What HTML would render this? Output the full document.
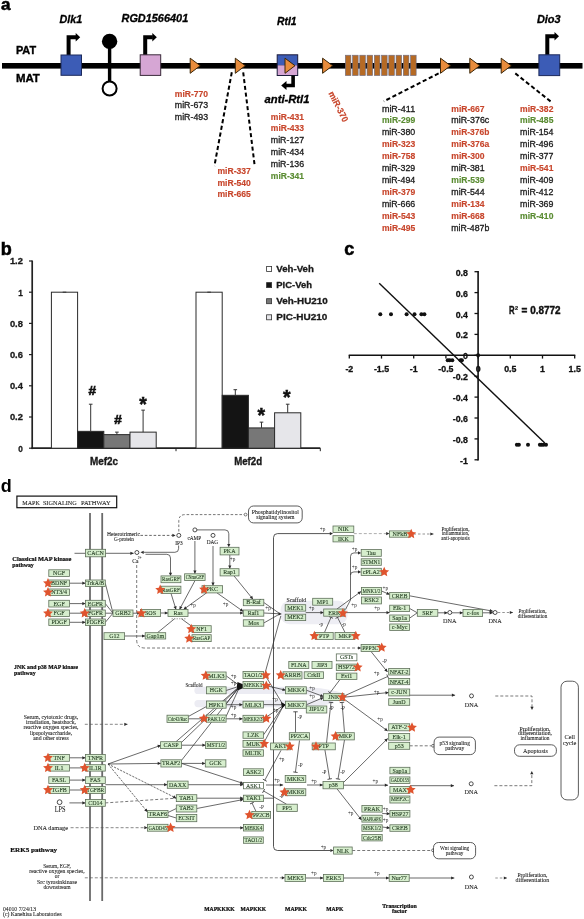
<!DOCTYPE html>
<html><head><meta charset="utf-8"><title>Figure</title>
<style>
html,body{margin:0;padding:0;background:#fff;}
body{width:584px;height:919px;overflow:hidden;}
svg{display:block;font-family:'Liberation Sans', Arial, sans-serif;}
</style></head>
<body>
<svg width="584" height="919" viewBox="0 0 584 919">
<rect x="0" y="0" width="584" height="919" fill="#fff"/>
<text x="1.00" y="10.30" font-size="17" font-weight="bold" stroke="#000" stroke-width="0.55">a</text>
<text x="15.90" y="54.30" font-size="11.3" font-weight="bold" textLength="20.20" lengthAdjust="spacingAndGlyphs" stroke="#000" stroke-width="0.35">PAT</text>
<text x="15.90" y="82.20" font-size="11.3" font-weight="bold" textLength="24.00" lengthAdjust="spacingAndGlyphs" stroke="#000" stroke-width="0.35">MAT</text>
<rect x="2.00" y="63.00" width="580.50" height="5.60" fill="#000"/>
<text x="59.60" y="22.60" font-size="10.5" font-weight="bold" font-style="italic" textLength="22.70" lengthAdjust="spacingAndGlyphs" stroke="#000" stroke-width="0.3">Dlk1</text>
<text x="121.50" y="22.40" font-size="10.5" font-weight="bold" font-style="italic" textLength="66.70" lengthAdjust="spacingAndGlyphs" stroke="#000" stroke-width="0.3">RGD1566401</text>
<text x="277.00" y="24.90" font-size="10.5" font-weight="bold" font-style="italic" textLength="19.50" lengthAdjust="spacingAndGlyphs" stroke="#000" stroke-width="0.3">Rtl1</text>
<text x="536.90" y="23.20" font-size="10.5" font-weight="bold" font-style="italic" textLength="23.70" lengthAdjust="spacingAndGlyphs" stroke="#000" stroke-width="0.3">Dio3</text>
<text x="264.50" y="103.00" font-size="10.5" font-weight="bold" font-style="italic" textLength="45.00" lengthAdjust="spacingAndGlyphs" stroke="#000" stroke-width="0.3">anti-Rtl1</text>
<path d="M68.6 55 V37.3 H76.2" fill="none" stroke="#000" stroke-width="4" stroke-linejoin="miter"/>
<path d="M75.7 33.0 L80.2 37.3 L75.7 41.6 Z" fill="#000"/>
<rect x="61.00" y="55.00" width="20.50" height="20.30" fill="#3c5cb6" stroke="#1c2a5c" stroke-width="1"/>
<rect x="107.90" y="41.00" width="3.40" height="42.00" fill="#000"/>
<circle cx="109.60" cy="41.40" r="7.70" fill="#000"/>
<circle cx="109.60" cy="88.50" r="7.00" fill="#fff" stroke="#000" stroke-width="2"/>
<path d="M145.2 55 V37.2 H152.8" fill="none" stroke="#000" stroke-width="4" stroke-linejoin="miter"/>
<path d="M152.3 32.9 L156.8 37.2 L152.3 41.5 Z" fill="#000"/>
<rect x="140.20" y="54.80" width="20.50" height="20.60" fill="#d6a6d4" stroke="#3a2a3a" stroke-width="1"/>
<rect x="277.20" y="54.80" width="20.50" height="10.50" fill="#3c5cb6"/>
<rect x="277.20" y="65.30" width="20.50" height="10.20" fill="#d6a6d4"/>
<rect x="277.20" y="54.80" width="20.50" height="20.70" fill="none" stroke="#1c1c3c" stroke-width="1"/>
<path d="M293.1 75.5 V85.5 H286" fill="none" stroke="#000" stroke-width="3.6"/>
<path d="M286.5 81.0 L281.2 85.5 L286.5 90.0 Z" fill="#000"/>
<path d="M547.3 55 V36.3 H555.0" fill="none" stroke="#000" stroke-width="4" stroke-linejoin="miter"/>
<path d="M554.5 32.0 L559.0 36.3 L554.5 40.6 Z" fill="#000"/>
<rect x="538.90" y="54.80" width="20.80" height="20.80" fill="#3c5cb6" stroke="#1c2a5c" stroke-width="1"/>
<path d="M190.2 58.2 L200.2 65.7 L190.2 73.3 Z" fill="#e88c3c" stroke="#3a2608" stroke-width="1.0"/>
<path d="M235.3 58.2 L245.3 65.7 L235.3 73.3 Z" fill="#e88c3c" stroke="#3a2608" stroke-width="1.0"/>
<path d="M285.0 58.2 L295.0 65.7 L285.0 73.3 Z" fill="#e88c3c" stroke="#3a2608" stroke-width="1.0"/>
<path d="M322.6 58.2 L332.6 65.7 L322.6 73.3 Z" fill="#e88c3c" stroke="#3a2608" stroke-width="1.0"/>
<path d="M440.5 58.2 L450.5 65.7 L440.5 73.3 Z" fill="#e88c3c" stroke="#3a2608" stroke-width="1.0"/>
<path d="M469.8 58.2 L479.8 65.7 L469.8 73.3 Z" fill="#e88c3c" stroke="#3a2608" stroke-width="1.0"/>
<path d="M501.2 58.2 L511.2 65.7 L501.2 73.3 Z" fill="#e88c3c" stroke="#3a2608" stroke-width="1.0"/>
<rect x="345.30" y="55.20" width="5.60" height="20.40" fill="#b66a24" stroke="#6a6e8a" stroke-width="0.6"/>
<rect x="352.55" y="55.20" width="5.60" height="20.40" fill="#b66a24" stroke="#6a6e8a" stroke-width="0.6"/>
<rect x="359.80" y="55.20" width="5.60" height="20.40" fill="#b66a24" stroke="#6a6e8a" stroke-width="0.6"/>
<rect x="367.05" y="55.20" width="5.60" height="20.40" fill="#b66a24" stroke="#6a6e8a" stroke-width="0.6"/>
<rect x="374.30" y="55.20" width="5.60" height="20.40" fill="#b66a24" stroke="#6a6e8a" stroke-width="0.6"/>
<rect x="381.55" y="55.20" width="5.60" height="20.40" fill="#b66a24" stroke="#6a6e8a" stroke-width="0.6"/>
<rect x="388.80" y="55.20" width="5.60" height="20.40" fill="#b66a24" stroke="#6a6e8a" stroke-width="0.6"/>
<rect x="396.05" y="55.20" width="5.60" height="20.40" fill="#b66a24" stroke="#6a6e8a" stroke-width="0.6"/>
<rect x="403.30" y="55.20" width="5.60" height="20.40" fill="#b66a24" stroke="#6a6e8a" stroke-width="0.6"/>
<rect x="410.55" y="55.20" width="5.60" height="20.40" fill="#b66a24" stroke="#6a6e8a" stroke-width="0.6"/>
<line x1="231.80" y1="72.30" x2="214.40" y2="166.00" stroke="#000" stroke-width="2" stroke-dasharray="4.2 2.6"/>
<line x1="243.20" y1="72.30" x2="254.70" y2="166.00" stroke="#000" stroke-width="2" stroke-dasharray="4.2 2.6"/>
<line x1="438.60" y1="73.40" x2="383.80" y2="101.30" stroke="#000" stroke-width="2" stroke-dasharray="4.2 2.6"/>
<line x1="515.30" y1="73.40" x2="550.60" y2="101.40" stroke="#000" stroke-width="2" stroke-dasharray="4.2 2.6"/>
<text x="174.80" y="96.60" font-size="9" fill="#c8462c" font-weight="bold" textLength="33.30" lengthAdjust="spacingAndGlyphs" stroke="#c8462c" stroke-width="0.15">miR-770</text>
<text x="174.80" y="108.35" font-size="9" fill="#1a1a1a" textLength="33.30" lengthAdjust="spacingAndGlyphs" stroke="#1a1a1a" stroke-width="0.3">miR-673</text>
<text x="174.80" y="120.10" font-size="9" fill="#1a1a1a" textLength="33.30" lengthAdjust="spacingAndGlyphs" stroke="#1a1a1a" stroke-width="0.3">miR-493</text>
<text x="270.80" y="119.60" font-size="9" fill="#c8462c" font-weight="bold" textLength="33.30" lengthAdjust="spacingAndGlyphs" stroke="#c8462c" stroke-width="0.15">miR-431</text>
<text x="270.80" y="131.45" font-size="9" fill="#c8462c" font-weight="bold" textLength="33.30" lengthAdjust="spacingAndGlyphs" stroke="#c8462c" stroke-width="0.15">miR-433</text>
<text x="270.80" y="143.30" font-size="9" fill="#1a1a1a" textLength="33.30" lengthAdjust="spacingAndGlyphs" stroke="#1a1a1a" stroke-width="0.3">miR-127</text>
<text x="270.80" y="155.15" font-size="9" fill="#1a1a1a" textLength="33.30" lengthAdjust="spacingAndGlyphs" stroke="#1a1a1a" stroke-width="0.3">miR-434</text>
<text x="270.80" y="167.00" font-size="9" fill="#1a1a1a" textLength="33.30" lengthAdjust="spacingAndGlyphs" stroke="#1a1a1a" stroke-width="0.3">miR-136</text>
<text x="270.80" y="178.85" font-size="9" fill="#5a8c32" font-weight="bold" textLength="33.30" lengthAdjust="spacingAndGlyphs" stroke="#5a8c32" stroke-width="0.15">miR-341</text>
<text x="217.50" y="173.80" font-size="9" fill="#c8462c" font-weight="bold" textLength="33.30" lengthAdjust="spacingAndGlyphs" stroke="#c8462c" stroke-width="0.15">miR-337</text>
<text x="217.50" y="185.60" font-size="9" fill="#c8462c" font-weight="bold" textLength="33.30" lengthAdjust="spacingAndGlyphs" stroke="#c8462c" stroke-width="0.15">miR-540</text>
<text x="217.50" y="197.40" font-size="9" fill="#c8462c" font-weight="bold" textLength="33.30" lengthAdjust="spacingAndGlyphs" stroke="#c8462c" stroke-width="0.15">miR-665</text>
<text x="328.20" y="93.30" font-size="9" fill="#c8462c" font-weight="bold" textLength="33.00" lengthAdjust="spacingAndGlyphs" transform="rotate(63 328.20 93.30)" stroke="#c8462c" stroke-width="0.15">miR-370</text>
<text x="381.90" y="111.50" font-size="9" fill="#1a1a1a" textLength="33.30" lengthAdjust="spacingAndGlyphs" stroke="#1a1a1a" stroke-width="0.3">miR-411</text>
<text x="381.90" y="123.42" font-size="9" fill="#5a8c32" font-weight="bold" textLength="33.30" lengthAdjust="spacingAndGlyphs" stroke="#5a8c32" stroke-width="0.15">miR-299</text>
<text x="381.90" y="135.34" font-size="9" fill="#1a1a1a" textLength="33.30" lengthAdjust="spacingAndGlyphs" stroke="#1a1a1a" stroke-width="0.3">miR-380</text>
<text x="381.90" y="147.26" font-size="9" fill="#c8462c" font-weight="bold" textLength="33.30" lengthAdjust="spacingAndGlyphs" stroke="#c8462c" stroke-width="0.15">miR-323</text>
<text x="381.90" y="159.18" font-size="9" fill="#c8462c" font-weight="bold" textLength="33.30" lengthAdjust="spacingAndGlyphs" stroke="#c8462c" stroke-width="0.15">miR-758</text>
<text x="381.90" y="171.10" font-size="9" fill="#1a1a1a" textLength="33.30" lengthAdjust="spacingAndGlyphs" stroke="#1a1a1a" stroke-width="0.3">miR-329</text>
<text x="381.90" y="183.02" font-size="9" fill="#1a1a1a" textLength="33.30" lengthAdjust="spacingAndGlyphs" stroke="#1a1a1a" stroke-width="0.3">miR-494</text>
<text x="381.90" y="194.94" font-size="9" fill="#c8462c" font-weight="bold" textLength="33.30" lengthAdjust="spacingAndGlyphs" stroke="#c8462c" stroke-width="0.15">miR-379</text>
<text x="381.90" y="206.86" font-size="9" fill="#1a1a1a" textLength="33.30" lengthAdjust="spacingAndGlyphs" stroke="#1a1a1a" stroke-width="0.3">miR-666</text>
<text x="381.90" y="218.78" font-size="9" fill="#c8462c" font-weight="bold" textLength="33.30" lengthAdjust="spacingAndGlyphs" stroke="#c8462c" stroke-width="0.15">miR-543</text>
<text x="381.90" y="230.70" font-size="9" fill="#c8462c" font-weight="bold" textLength="33.30" lengthAdjust="spacingAndGlyphs" stroke="#c8462c" stroke-width="0.15">miR-495</text>
<text x="451.30" y="111.50" font-size="9" fill="#c8462c" font-weight="bold" textLength="33.30" lengthAdjust="spacingAndGlyphs" stroke="#c8462c" stroke-width="0.15">miR-667</text>
<text x="451.30" y="123.42" font-size="9" fill="#1a1a1a" textLength="38.00" lengthAdjust="spacingAndGlyphs" stroke="#1a1a1a" stroke-width="0.3">miR-376c</text>
<text x="451.30" y="135.34" font-size="9" fill="#c8462c" font-weight="bold" textLength="38.00" lengthAdjust="spacingAndGlyphs" stroke="#c8462c" stroke-width="0.15">miR-376b</text>
<text x="451.30" y="147.26" font-size="9" fill="#c8462c" font-weight="bold" textLength="38.00" lengthAdjust="spacingAndGlyphs" stroke="#c8462c" stroke-width="0.15">miR-376a</text>
<text x="451.30" y="159.18" font-size="9" fill="#c8462c" font-weight="bold" textLength="33.30" lengthAdjust="spacingAndGlyphs" stroke="#c8462c" stroke-width="0.15">miR-300</text>
<text x="451.30" y="171.10" font-size="9" fill="#1a1a1a" textLength="33.30" lengthAdjust="spacingAndGlyphs" stroke="#1a1a1a" stroke-width="0.3">miR-381</text>
<text x="451.30" y="183.02" font-size="9" fill="#5a8c32" font-weight="bold" textLength="33.30" lengthAdjust="spacingAndGlyphs" stroke="#5a8c32" stroke-width="0.15">miR-539</text>
<text x="451.30" y="194.94" font-size="9" fill="#1a1a1a" textLength="33.30" lengthAdjust="spacingAndGlyphs" stroke="#1a1a1a" stroke-width="0.3">miR-544</text>
<text x="451.30" y="206.86" font-size="9" fill="#c8462c" font-weight="bold" textLength="33.30" lengthAdjust="spacingAndGlyphs" stroke="#c8462c" stroke-width="0.15">miR-134</text>
<text x="451.30" y="218.78" font-size="9" fill="#c8462c" font-weight="bold" textLength="33.30" lengthAdjust="spacingAndGlyphs" stroke="#c8462c" stroke-width="0.15">miR-668</text>
<text x="451.30" y="230.70" font-size="9" fill="#1a1a1a" textLength="38.00" lengthAdjust="spacingAndGlyphs" stroke="#1a1a1a" stroke-width="0.3">miR-487b</text>
<text x="520.10" y="111.50" font-size="9" fill="#c8462c" font-weight="bold" textLength="33.30" lengthAdjust="spacingAndGlyphs" stroke="#c8462c" stroke-width="0.15">miR-382</text>
<text x="520.10" y="123.42" font-size="9" fill="#5a8c32" font-weight="bold" textLength="33.30" lengthAdjust="spacingAndGlyphs" stroke="#5a8c32" stroke-width="0.15">miR-485</text>
<text x="520.10" y="135.34" font-size="9" fill="#1a1a1a" textLength="33.30" lengthAdjust="spacingAndGlyphs" stroke="#1a1a1a" stroke-width="0.3">miR-154</text>
<text x="520.10" y="147.26" font-size="9" fill="#1a1a1a" textLength="33.30" lengthAdjust="spacingAndGlyphs" stroke="#1a1a1a" stroke-width="0.3">miR-496</text>
<text x="520.10" y="159.18" font-size="9" fill="#1a1a1a" textLength="33.30" lengthAdjust="spacingAndGlyphs" stroke="#1a1a1a" stroke-width="0.3">miR-377</text>
<text x="520.10" y="171.10" font-size="9" fill="#c8462c" font-weight="bold" textLength="33.30" lengthAdjust="spacingAndGlyphs" stroke="#c8462c" stroke-width="0.15">miR-541</text>
<text x="520.10" y="183.02" font-size="9" fill="#1a1a1a" textLength="33.30" lengthAdjust="spacingAndGlyphs" stroke="#1a1a1a" stroke-width="0.3">miR-409</text>
<text x="520.10" y="194.94" font-size="9" fill="#1a1a1a" textLength="33.30" lengthAdjust="spacingAndGlyphs" stroke="#1a1a1a" stroke-width="0.3">miR-412</text>
<text x="520.10" y="206.86" font-size="9" fill="#1a1a1a" textLength="33.30" lengthAdjust="spacingAndGlyphs" stroke="#1a1a1a" stroke-width="0.3">miR-369</text>
<text x="520.10" y="218.78" font-size="9" fill="#5a8c32" font-weight="bold" textLength="33.30" lengthAdjust="spacingAndGlyphs" stroke="#5a8c32" stroke-width="0.15">miR-410</text>
<text x="0.80" y="254.70" font-size="18" font-weight="bold" stroke="#000" stroke-width="0.6">b</text>
<line x1="32.20" y1="260.50" x2="32.20" y2="449.10" stroke="#222" stroke-width="1.7"/>
<line x1="31.40" y1="448.20" x2="320.30" y2="448.20" stroke="#222" stroke-width="1.7"/>
<line x1="176.00" y1="448.20" x2="176.00" y2="451.20" stroke="#222" stroke-width="1"/>
<line x1="320.30" y1="448.20" x2="320.30" y2="451.20" stroke="#222" stroke-width="1"/>
<line x1="29.00" y1="448.20" x2="32.20" y2="448.20" stroke="#222" stroke-width="1.2"/>
<text x="22.90" y="451.60" font-size="9.2" fill="#1a1a1a" font-weight="bold" text-anchor="end" textLength="4.60" lengthAdjust="spacingAndGlyphs" stroke="#1a1a1a" stroke-width="0.3">0</text>
<line x1="29.00" y1="417.00" x2="32.20" y2="417.00" stroke="#222" stroke-width="1.2"/>
<text x="22.90" y="420.40" font-size="9.2" fill="#1a1a1a" font-weight="bold" text-anchor="end" textLength="13.00" lengthAdjust="spacingAndGlyphs" stroke="#1a1a1a" stroke-width="0.3">0.2</text>
<line x1="29.00" y1="385.80" x2="32.20" y2="385.80" stroke="#222" stroke-width="1.2"/>
<text x="22.90" y="389.20" font-size="9.2" fill="#1a1a1a" font-weight="bold" text-anchor="end" textLength="13.00" lengthAdjust="spacingAndGlyphs" stroke="#1a1a1a" stroke-width="0.3">0.4</text>
<line x1="29.00" y1="354.60" x2="32.20" y2="354.60" stroke="#222" stroke-width="1.2"/>
<text x="22.90" y="358.00" font-size="9.2" fill="#1a1a1a" font-weight="bold" text-anchor="end" textLength="13.00" lengthAdjust="spacingAndGlyphs" stroke="#1a1a1a" stroke-width="0.3">0.6</text>
<line x1="29.00" y1="323.40" x2="32.20" y2="323.40" stroke="#222" stroke-width="1.2"/>
<text x="22.90" y="326.80" font-size="9.2" fill="#1a1a1a" font-weight="bold" text-anchor="end" textLength="13.00" lengthAdjust="spacingAndGlyphs" stroke="#1a1a1a" stroke-width="0.3">0.8</text>
<line x1="29.00" y1="292.20" x2="32.20" y2="292.20" stroke="#222" stroke-width="1.2"/>
<text x="22.90" y="295.60" font-size="9.2" fill="#1a1a1a" font-weight="bold" text-anchor="end" textLength="4.60" lengthAdjust="spacingAndGlyphs" stroke="#1a1a1a" stroke-width="0.3">1</text>
<line x1="29.00" y1="261.00" x2="32.20" y2="261.00" stroke="#222" stroke-width="1.2"/>
<text x="22.90" y="264.40" font-size="9.2" fill="#1a1a1a" font-weight="bold" text-anchor="end" textLength="13.00" lengthAdjust="spacingAndGlyphs" stroke="#1a1a1a" stroke-width="0.3">1.2</text>
<rect x="51.40" y="292.20" width="26.20" height="156.00" fill="#ffffff" stroke="#2a2a2a" stroke-width="1.0"/>
<line x1="62.70" y1="292.20" x2="66.30" y2="292.20" stroke="#333" stroke-width="1.0"/>
<rect x="77.60" y="431.35" width="26.20" height="16.85" fill="#141414" stroke="#2a2a2a" stroke-width="1.0"/>
<line x1="90.70" y1="431.35" x2="90.70" y2="404.21" stroke="#333" stroke-width="1.0"/>
<line x1="88.90" y1="404.21" x2="92.50" y2="404.21" stroke="#333" stroke-width="1.0"/>
<rect x="103.80" y="434.63" width="26.20" height="13.57" fill="#777777" stroke="#2a2a2a" stroke-width="1.0"/>
<line x1="116.90" y1="434.63" x2="116.90" y2="432.13" stroke="#333" stroke-width="1.0"/>
<line x1="115.10" y1="432.13" x2="118.70" y2="432.13" stroke="#333" stroke-width="1.0"/>
<rect x="130.00" y="432.13" width="26.20" height="16.07" fill="#e6e6ea" stroke="#2a2a2a" stroke-width="1.0"/>
<line x1="143.10" y1="432.13" x2="143.10" y2="410.14" stroke="#333" stroke-width="1.0"/>
<line x1="141.30" y1="410.14" x2="144.90" y2="410.14" stroke="#333" stroke-width="1.0"/>
<rect x="196.00" y="292.20" width="26.20" height="156.00" fill="#ffffff" stroke="#2a2a2a" stroke-width="1.0"/>
<line x1="207.30" y1="292.20" x2="210.90" y2="292.20" stroke="#333" stroke-width="1.0"/>
<rect x="222.20" y="395.32" width="26.20" height="52.88" fill="#141414" stroke="#2a2a2a" stroke-width="1.0"/>
<line x1="235.30" y1="395.32" x2="235.30" y2="389.70" stroke="#333" stroke-width="1.0"/>
<line x1="233.50" y1="389.70" x2="237.10" y2="389.70" stroke="#333" stroke-width="1.0"/>
<rect x="248.40" y="427.92" width="26.20" height="20.28" fill="#777777" stroke="#2a2a2a" stroke-width="1.0"/>
<line x1="261.50" y1="427.92" x2="261.50" y2="422.15" stroke="#333" stroke-width="1.0"/>
<line x1="259.70" y1="422.15" x2="263.30" y2="422.15" stroke="#333" stroke-width="1.0"/>
<rect x="274.60" y="412.79" width="26.20" height="35.41" fill="#e6e6ea" stroke="#2a2a2a" stroke-width="1.0"/>
<line x1="287.70" y1="412.79" x2="287.70" y2="404.21" stroke="#333" stroke-width="1.0"/>
<line x1="285.90" y1="404.21" x2="289.50" y2="404.21" stroke="#333" stroke-width="1.0"/>
<text x="92.30" y="394.50" font-size="13.5" fill="#111" font-weight="bold" text-anchor="middle" stroke="#111" stroke-width="0.7">#</text>
<text x="118.00" y="424.40" font-size="13.5" fill="#111" font-weight="bold" text-anchor="middle" stroke="#111" stroke-width="0.7">#</text>
<text x="143.00" y="411.10" font-size="19.5" fill="#111" font-weight="bold" text-anchor="middle" stroke="#111" stroke-width="0.5">*</text>
<text x="261.30" y="422.10" font-size="19.5" fill="#111" font-weight="bold" text-anchor="middle" stroke="#111" stroke-width="0.5">*</text>
<text x="286.90" y="403.50" font-size="19.5" fill="#111" font-weight="bold" text-anchor="middle" stroke="#111" stroke-width="0.5">*</text>
<text x="90.00" y="464.70" font-size="10.3" fill="#1a1a1a" font-weight="bold" textLength="28.10" lengthAdjust="spacingAndGlyphs" stroke="#1a1a1a" stroke-width="0.35">Mef2c</text>
<text x="234.20" y="464.70" font-size="10.3" fill="#1a1a1a" font-weight="bold" textLength="27.90" lengthAdjust="spacingAndGlyphs" stroke="#1a1a1a" stroke-width="0.35">Mef2d</text>
<rect x="266.60" y="266.50" width="5.00" height="5.00" fill="#ffffff" stroke="#333" stroke-width="0.8"/>
<text x="276.30" y="271.80" font-size="9.2" fill="#1a1a1a" font-weight="bold" textLength="37.60" lengthAdjust="spacingAndGlyphs" stroke="#1a1a1a" stroke-width="0.3">Veh-Veh</text>
<rect x="266.60" y="282.60" width="5.00" height="5.00" fill="#141414" stroke="#333" stroke-width="0.8"/>
<text x="276.30" y="287.90" font-size="9.2" fill="#1a1a1a" font-weight="bold" textLength="35.70" lengthAdjust="spacingAndGlyphs" stroke="#1a1a1a" stroke-width="0.3">PIC-Veh</text>
<rect x="266.60" y="298.70" width="5.00" height="5.00" fill="#777777" stroke="#333" stroke-width="0.8"/>
<text x="276.30" y="304.00" font-size="9.2" fill="#1a1a1a" font-weight="bold" textLength="51.50" lengthAdjust="spacingAndGlyphs" stroke="#1a1a1a" stroke-width="0.3">Veh-HU210</text>
<rect x="266.60" y="314.80" width="5.00" height="5.00" fill="#e6e6ea" stroke="#333" stroke-width="0.8"/>
<text x="276.30" y="320.10" font-size="9.2" fill="#1a1a1a" font-weight="bold" textLength="51.00" lengthAdjust="spacingAndGlyphs" stroke="#1a1a1a" stroke-width="0.3">PIC-HU210</text>
<text x="344.20" y="255.00" font-size="18" font-weight="bold" stroke="#000" stroke-width="0.6">c</text>
<line x1="478.10" y1="271.10" x2="478.10" y2="460.40" stroke="#111" stroke-width="1.6"/>
<line x1="348.70" y1="355.30" x2="575.30" y2="355.30" stroke="#111" stroke-width="1.6"/>
<line x1="474.50" y1="271.70" x2="478.10" y2="271.70" stroke="#111" stroke-width="1.3"/>
<text x="467.90" y="275.70" font-size="8.8" fill="#111" font-weight="bold" text-anchor="end" stroke="#111" stroke-width="0.3">0.8</text>
<line x1="474.50" y1="292.60" x2="478.10" y2="292.60" stroke="#111" stroke-width="1.3"/>
<text x="467.90" y="296.60" font-size="8.8" fill="#111" font-weight="bold" text-anchor="end" stroke="#111" stroke-width="0.3">0.6</text>
<line x1="474.50" y1="313.50" x2="478.10" y2="313.50" stroke="#111" stroke-width="1.3"/>
<text x="467.90" y="317.50" font-size="8.8" fill="#111" font-weight="bold" text-anchor="end" stroke="#111" stroke-width="0.3">0.4</text>
<line x1="474.50" y1="334.40" x2="478.10" y2="334.40" stroke="#111" stroke-width="1.3"/>
<text x="467.90" y="338.40" font-size="8.8" fill="#111" font-weight="bold" text-anchor="end" stroke="#111" stroke-width="0.3">0.2</text>
<line x1="474.50" y1="355.30" x2="478.10" y2="355.30" stroke="#111" stroke-width="1.3"/>
<text x="467.90" y="359.30" font-size="8.8" fill="#111" font-weight="bold" text-anchor="end" stroke="#111" stroke-width="0.3">0</text>
<line x1="474.50" y1="376.20" x2="478.10" y2="376.20" stroke="#111" stroke-width="1.3"/>
<text x="467.90" y="380.20" font-size="8.8" fill="#111" font-weight="bold" text-anchor="end" stroke="#111" stroke-width="0.3">-0.2</text>
<line x1="474.50" y1="397.10" x2="478.10" y2="397.10" stroke="#111" stroke-width="1.3"/>
<text x="467.90" y="401.10" font-size="8.8" fill="#111" font-weight="bold" text-anchor="end" stroke="#111" stroke-width="0.3">-0.4</text>
<line x1="474.50" y1="418.00" x2="478.10" y2="418.00" stroke="#111" stroke-width="1.3"/>
<text x="467.90" y="422.00" font-size="8.8" fill="#111" font-weight="bold" text-anchor="end" stroke="#111" stroke-width="0.3">-0.6</text>
<line x1="474.50" y1="438.90" x2="478.10" y2="438.90" stroke="#111" stroke-width="1.3"/>
<text x="467.90" y="442.90" font-size="8.8" fill="#111" font-weight="bold" text-anchor="end" stroke="#111" stroke-width="0.3">-0.8</text>
<line x1="474.50" y1="459.80" x2="478.10" y2="459.80" stroke="#111" stroke-width="1.3"/>
<text x="467.90" y="463.80" font-size="8.8" fill="#111" font-weight="bold" text-anchor="end" stroke="#111" stroke-width="0.3">-1</text>
<line x1="349.30" y1="355.30" x2="349.30" y2="358.60" stroke="#111" stroke-width="1.3"/>
<text x="349.30" y="372.30" font-size="8.8" fill="#111" font-weight="bold" text-anchor="middle" stroke="#111" stroke-width="0.3">-2</text>
<line x1="381.50" y1="355.30" x2="381.50" y2="358.60" stroke="#111" stroke-width="1.3"/>
<text x="381.50" y="372.30" font-size="8.8" fill="#111" font-weight="bold" text-anchor="middle" stroke="#111" stroke-width="0.3">-1.5</text>
<line x1="413.70" y1="355.30" x2="413.70" y2="358.60" stroke="#111" stroke-width="1.3"/>
<text x="413.70" y="372.30" font-size="8.8" fill="#111" font-weight="bold" text-anchor="middle" stroke="#111" stroke-width="0.3">-1</text>
<line x1="445.90" y1="355.30" x2="445.90" y2="358.60" stroke="#111" stroke-width="1.3"/>
<text x="445.90" y="372.30" font-size="8.8" fill="#111" font-weight="bold" text-anchor="middle" stroke="#111" stroke-width="0.3">-0.5</text>
<line x1="478.10" y1="355.30" x2="478.10" y2="358.60" stroke="#111" stroke-width="1.3"/>
<text x="478.10" y="372.30" font-size="8.8" fill="#111" font-weight="bold" text-anchor="middle" stroke="#111" stroke-width="0.3">0</text>
<line x1="510.30" y1="355.30" x2="510.30" y2="358.60" stroke="#111" stroke-width="1.3"/>
<text x="510.30" y="372.30" font-size="8.8" fill="#111" font-weight="bold" text-anchor="middle" stroke="#111" stroke-width="0.3">0.5</text>
<line x1="542.50" y1="355.30" x2="542.50" y2="358.60" stroke="#111" stroke-width="1.3"/>
<text x="542.50" y="372.30" font-size="8.8" fill="#111" font-weight="bold" text-anchor="middle" stroke="#111" stroke-width="0.3">1</text>
<line x1="574.70" y1="355.30" x2="574.70" y2="358.60" stroke="#111" stroke-width="1.3"/>
<text x="574.70" y="372.30" font-size="8.8" fill="#111" font-weight="bold" text-anchor="middle" stroke="#111" stroke-width="0.3">1.5</text>
<line x1="379.20" y1="283.30" x2="544.80" y2="443.00" stroke="#111" stroke-width="1.4"/>
<circle cx="380.30" cy="314.20" r="2.00" fill="#111"/>
<circle cx="391.00" cy="314.20" r="2.00" fill="#111"/>
<circle cx="406.60" cy="314.20" r="2.00" fill="#111"/>
<circle cx="414.50" cy="314.20" r="2.00" fill="#111"/>
<circle cx="421.40" cy="314.20" r="2.00" fill="#111"/>
<circle cx="424.40" cy="314.20" r="2.00" fill="#111"/>
<circle cx="447.70" cy="360.30" r="2.00" fill="#111"/>
<circle cx="449.60" cy="360.30" r="2.00" fill="#111"/>
<circle cx="452.30" cy="360.30" r="2.00" fill="#111"/>
<circle cx="460.50" cy="360.30" r="2.00" fill="#111"/>
<circle cx="461.90" cy="360.30" r="2.00" fill="#111"/>
<circle cx="478.10" cy="355.30" r="2.00" fill="#111"/>
<circle cx="516.90" cy="444.80" r="2.00" fill="#111"/>
<circle cx="518.90" cy="444.80" r="2.00" fill="#111"/>
<circle cx="528.00" cy="444.80" r="2.00" fill="#111"/>
<circle cx="539.90" cy="444.80" r="2.00" fill="#111"/>
<circle cx="541.60" cy="444.80" r="2.00" fill="#111"/>
<circle cx="543.50" cy="444.80" r="2.00" fill="#111"/>
<circle cx="546.00" cy="444.80" r="2.00" fill="#111"/>
<text x="509.00" y="314.40" font-size="10.0" fill="#111" font-weight="bold" textLength="5.60" lengthAdjust="spacingAndGlyphs" stroke="#111" stroke-width="0.4">R</text>
<text x="515.00" y="310.30" font-size="5.6" fill="#111" font-weight="bold" stroke="#111" stroke-width="0.2">2</text>
<text x="521.60" y="314.40" font-size="10.0" fill="#111" font-weight="bold" textLength="39.00" lengthAdjust="spacingAndGlyphs" stroke="#111" stroke-width="0.4">= 0.8772</text>
<text x="0.80" y="492.00" font-size="18" font-weight="bold">d</text>
<rect x="16.90" y="496.10" width="99.80" height="11.60" fill="#fff" stroke="#111" stroke-width="1.2"/>
<text x="22.30" y="504.80" font-size="6.0" font-family="'Liberation Serif', 'Times New Roman', serif" fill="#222" text-anchor="start" textLength="17.50" lengthAdjust="spacingAndGlyphs" stroke="#222" stroke-width="0.08">MAPK</text>
<text x="42.90" y="504.80" font-size="6.0" font-family="'Liberation Serif', 'Times New Roman', serif" fill="#222" text-anchor="start" textLength="33.90" lengthAdjust="spacingAndGlyphs" stroke="#222" stroke-width="0.08">SIGNALING</text>
<text x="80.90" y="504.80" font-size="6.0" font-family="'Liberation Serif', 'Times New Roman', serif" fill="#222" text-anchor="start" textLength="29.80" lengthAdjust="spacingAndGlyphs" stroke="#222" stroke-width="0.08">PATHWAY</text>
<rect x="280.5" y="600.8" width="67" height="23.4" rx="9" fill="#eeeef4"/>
<path d="M198 686.8 H300 Q330 688 345 694 L345 700 Q330 696 300 694.1 H198 A3.6 3.6 0 0 1 198 686.8 Z" fill="#ececf3"/>
<path d="M198 700 H300 Q318 700 330 697 L334 703 Q318 707.2 300 707.2 H198 A3.6 3.6 0 0 1 198 700 Z" fill="#ececf3"/>
<line x1="90.00" y1="513.00" x2="90.00" y2="901.00" stroke="#6a6a6a" stroke-width="1.8"/>
<line x1="102.20" y1="513.00" x2="102.20" y2="901.00" stroke="#6a6a6a" stroke-width="1.8"/>
<text x="12.30" y="561.00" font-size="6.0" font-family="'Liberation Serif', 'Times New Roman', serif" fill="#111" font-weight="bold" text-anchor="start" textLength="59.00" lengthAdjust="spacingAndGlyphs" stroke="#111" stroke-width="0.22">Classical MAP kinase</text>
<text x="12.30" y="566.80" font-size="6.0" font-family="'Liberation Serif', 'Times New Roman', serif" fill="#111" font-weight="bold" text-anchor="start" textLength="21.50" lengthAdjust="spacingAndGlyphs" stroke="#111" stroke-width="0.22">pathway</text>
<text x="14.10" y="669.00" font-size="6.0" font-family="'Liberation Serif', 'Times New Roman', serif" fill="#111" font-weight="bold" text-anchor="start" textLength="64.00" lengthAdjust="spacingAndGlyphs" stroke="#111" stroke-width="0.22">JNK and p38 MAP kinase</text>
<text x="14.10" y="674.60" font-size="6.0" font-family="'Liberation Serif', 'Times New Roman', serif" fill="#111" font-weight="bold" text-anchor="start" textLength="21.50" lengthAdjust="spacingAndGlyphs" stroke="#111" stroke-width="0.22">pathway</text>
<text x="10.30" y="852.00" font-size="6.6" font-family="'Liberation Serif', 'Times New Roman', serif" fill="#111" font-weight="bold" text-anchor="start" textLength="46.70" lengthAdjust="spacingAndGlyphs" stroke="#111" stroke-width="0.22">ERK5 pathway</text>
<path d="M74.50 553.30 L133.60 553.30" fill="none" stroke="#2a2a2a" stroke-width="0.7"/>
<path d="M133.60 553.30 L130.40 554.90 L130.40 551.70 Z" fill="#2a2a2a"/>
<path d="M140.40 535.40 L175.60 535.40" fill="none" stroke="#2a2a2a" stroke-width="0.7" stroke-dasharray="2.6 1.8"/>
<path d="M175.60 535.40 L172.40 537.00 L172.40 533.80 Z" fill="#2a2a2a"/>
<path d="M178.8 531.5 V521 Q178.8 514.6 185.2 514.6 H244" fill="none" stroke="#555" stroke-width="0.8" stroke-dasharray="2.6 1.8"/>
<circle cx="245.60" cy="514.60" r="1.40" fill="#fff" stroke="#444" stroke-width="0.7"/>
<path d="M178.6 545.5 V548.6 Q178.6 552.3 174.9 552.3 H143.5" fill="none" stroke="#2a2a2a" stroke-width="0.7"/>
<path d="M140.50 552.30 L143.70 550.70 L143.70 553.90 Z" fill="#2a2a2a"/>
<path d="M145.5 554.3 H166.8 Q170.5 554.3 170.5 558 V573" fill="none" stroke="#2a2a2a" stroke-width="0.7"/>
<path d="M170.50 575.90 L168.90 572.70 L172.10 572.70 Z" fill="#2a2a2a"/>
<path d="M197.0 529.9 H225.0 Q228.8 529.9 228.8 533.7 V545" fill="none" stroke="#2a2a2a" stroke-width="0.7"/>
<path d="M228.80 547.30 L227.20 544.10 L230.40 544.10 Z" fill="#2a2a2a"/>
<path d="M194.90 541.00 L194.90 573.80" fill="none" stroke="#2a2a2a" stroke-width="0.7"/>
<path d="M194.90 573.80 L193.30 570.60 L196.50 570.60 Z" fill="#2a2a2a"/>
<path d="M213.00 546.00 L213.00 585.70" fill="none" stroke="#2a2a2a" stroke-width="0.7"/>
<path d="M213.00 585.70 L211.40 582.50 L214.60 582.50 Z" fill="#2a2a2a"/>
<path d="M229.80 554.90 L229.80 568.70" fill="none" stroke="#2a2a2a" stroke-width="0.7"/>
<path d="M229.80 568.70 L228.20 565.50 L231.40 565.50 Z" fill="#2a2a2a"/>
<text x="232.60" y="561.00" font-size="5.2" font-family="'Liberation Serif', 'Times New Roman', serif" fill="#222" text-anchor="middle">+p</text>
<path d="M234.00 575.90 L253.00 599.30" fill="none" stroke="#2a2a2a" stroke-width="0.7"/>
<path d="M253.00 599.30 L249.74 597.82 L252.23 595.81 Z" fill="#2a2a2a"/>
<path d="M171.00 593.40 L176.00 609.50" fill="none" stroke="#2a2a2a" stroke-width="0.7"/>
<path d="M176.00 609.50 L173.52 606.92 L176.58 605.97 Z" fill="#2a2a2a"/>
<path d="M195.00 580.60 L179.50 609.50" fill="none" stroke="#2a2a2a" stroke-width="0.7"/>
<path d="M179.50 609.50 L179.60 605.92 L182.42 607.44 Z" fill="#2a2a2a"/>
<path d="M206.50 592.90 L183.50 609.50" fill="none" stroke="#2a2a2a" stroke-width="0.7"/>
<path d="M183.50 609.50 L185.16 606.33 L187.03 608.92 Z" fill="#2a2a2a"/>
<path d="M217.00 592.90 L243.30 611.50" fill="none" stroke="#2a2a2a" stroke-width="0.7"/>
<path d="M243.30 611.50 L239.76 610.96 L241.61 608.35 Z" fill="#2a2a2a"/>
<text x="193.00" y="607.00" font-size="5.2" font-family="'Liberation Serif', 'Times New Roman', serif" fill="#222" text-anchor="middle">+p</text>
<text x="225.50" y="606.00" font-size="5.2" font-family="'Liberation Serif', 'Times New Roman', serif" fill="#222" text-anchor="middle">+p</text>
<path d="M160.60 613.00 L168.00 613.00" fill="none" stroke="#2a2a2a" stroke-width="0.7"/>
<path d="M168.00 613.00 L164.80 614.60 L164.80 611.40 Z" fill="#2a2a2a"/>
<path d="M188.00 613.00 L243.30 613.00" fill="none" stroke="#2a2a2a" stroke-width="0.7"/>
<path d="M243.30 613.00 L240.10 614.60 L240.10 611.40 Z" fill="#2a2a2a"/>
<path d="M133.00 613.20 L140.50 613.20" fill="none" stroke="#2a2a2a" stroke-width="0.7"/>
<path d="M140.50 613.20 L137.30 614.80 L137.30 611.60 Z" fill="#2a2a2a"/>
<line x1="105.30" y1="583.30" x2="113.00" y2="613.20" stroke="#2a2a2a" stroke-width="0.7"/>
<line x1="105.30" y1="603.60" x2="113.00" y2="613.20" stroke="#2a2a2a" stroke-width="0.7"/>
<line x1="105.30" y1="613.20" x2="113.00" y2="613.20" stroke="#2a2a2a" stroke-width="0.7"/>
<line x1="105.30" y1="622.30" x2="113.00" y2="613.20" stroke="#2a2a2a" stroke-width="0.7"/>
<path d="M69.40 583.20 L85.50 583.20" fill="none" stroke="#2a2a2a" stroke-width="0.7"/>
<path d="M85.50 583.20 L82.30 584.80 L82.30 581.60 Z" fill="#2a2a2a"/>
<path d="M69.40 603.60 L85.50 603.60" fill="none" stroke="#2a2a2a" stroke-width="0.7"/>
<path d="M85.50 603.60 L82.30 605.20 L82.30 602.00 Z" fill="#2a2a2a"/>
<path d="M69.40 613.20 L85.50 613.20" fill="none" stroke="#2a2a2a" stroke-width="0.7"/>
<path d="M85.50 613.20 L82.30 614.80 L82.30 611.60 Z" fill="#2a2a2a"/>
<path d="M69.40 622.30 L85.50 622.30" fill="none" stroke="#2a2a2a" stroke-width="0.7"/>
<path d="M85.50 622.30 L82.30 623.90 L82.30 620.70 Z" fill="#2a2a2a"/>
<path d="M124.60 636.00 L145.20 636.00" fill="none" stroke="#2a2a2a" stroke-width="0.7"/>
<path d="M145.20 636.00 L142.00 637.60 L142.00 634.40 Z" fill="#2a2a2a"/>
<line x1="157.50" y1="632.70" x2="174.50" y2="618.80" stroke="#2a2a2a" stroke-width="0.7"/>
<line x1="192.00" y1="626.50" x2="181.50" y2="618.80" stroke="#2a2a2a" stroke-width="0.7"/>
<line x1="171.50" y1="618.80" x2="185.50" y2="618.80" stroke="#777" stroke-width="0.7" stroke-dasharray="1.5 1"/>
<line x1="263.80" y1="602.50" x2="280.00" y2="613.80" stroke="#2a2a2a" stroke-width="0.7"/>
<line x1="263.80" y1="613.00" x2="280.00" y2="613.80" stroke="#2a2a2a" stroke-width="0.7"/>
<line x1="263.80" y1="623.00" x2="280.00" y2="613.80" stroke="#2a2a2a" stroke-width="0.7"/>
<path d="M281.80 614.00 L278.52 615.44 L278.68 612.24 Z" fill="#2a2a2a"/>
<text x="268.00" y="610.00" font-size="5.2" font-family="'Liberation Serif', 'Times New Roman', serif" fill="#222" text-anchor="middle">+p</text>
<path d="M136.7 565 V640 Q136.7 648 144.7 648 H359" fill="none" stroke="#555" stroke-width="0.8" stroke-dasharray="3 2"/>
<path d="M361.30 648.00 L358.10 649.60 L358.10 646.40 Z" fill="#2a2a2a"/>
<path d="M273.5 846.5 V537.6 Q273.5 533.6 277.5 533.6 H330.5" fill="none" stroke="#2a2a2a" stroke-width="0.8"/>
<path d="M333.00 533.60 L329.80 535.20 L329.80 532.00 Z" fill="#2a2a2a"/>
<text x="322.50" y="531.00" font-size="5.2" font-family="'Liberation Serif', 'Times New Roman', serif" fill="#222" text-anchor="middle">+p</text>
<path d="M353.8 533.6 H386.5" fill="none" stroke="#999" stroke-width="0.8" stroke-dasharray="3 2"/>
<path d="M389.40 533.60 L386.20 535.20 L386.20 532.00 Z" fill="#2a2a2a"/>
<path d="M413.50 534.00 L433.50 534.00" fill="none" stroke="#666" stroke-width="0.7" stroke-dasharray="2.5 2"/>
<path d="M433.50 534.00 L430.30 535.60 L430.30 532.40 Z" fill="#2a2a2a"/>
<path d="M305.70 612.60 L323.70 612.60" fill="none" stroke="#2a2a2a" stroke-width="0.7"/>
<path d="M323.70 612.60 L320.50 614.20 L320.50 611.00 Z" fill="#2a2a2a"/>
<text x="311.50" y="610.00" font-size="5.2" font-family="'Liberation Serif', 'Times New Roman', serif" fill="#222" text-anchor="middle">+p</text>
<path d="M337.00 609.00 L361.00 591.50" fill="none" stroke="#2a2a2a" stroke-width="0.7"/>
<path d="M361.00 591.50 L359.36 594.68 L357.47 592.09 Z" fill="#2a2a2a"/>
<text x="354.00" y="606.50" font-size="5.2" font-family="'Liberation Serif', 'Times New Roman', serif" fill="#222" text-anchor="middle">+p</text>
<path d="M344.80 612.60 L389.70 612.60" fill="none" stroke="#2a2a2a" stroke-width="0.7"/>
<path d="M389.70 612.60 L386.50 614.20 L386.50 611.00 Z" fill="#2a2a2a"/>
<text x="377.00" y="610.00" font-size="5.2" font-family="'Liberation Serif', 'Times New Roman', serif" fill="#222" text-anchor="middle">+p</text>
<path d="M345.5 609.5 L350.5 600 V556.5 Q350.5 552.9 354 552.9 H359" fill="none" stroke="#2a2a2a" stroke-width="0.7"/>
<path d="M361.20 552.90 L358.00 554.50 L358.00 551.30 Z" fill="#2a2a2a"/>
<path d="M350.5 575 Q350.5 571.9 354 571.9 H359" fill="none" stroke="#2a2a2a" stroke-width="0.7"/>
<path d="M361.20 571.90 L358.00 573.50 L358.00 570.30 Z" fill="#2a2a2a"/>
<text x="354.50" y="550.50" font-size="5.2" font-family="'Liberation Serif', 'Times New Roman', serif" fill="#222" text-anchor="middle">+p</text>
<text x="354.50" y="568.50" font-size="5.2" font-family="'Liberation Serif', 'Times New Roman', serif" fill="#222" text-anchor="middle">+p</text>
<path d="M381.50 591.00 L389.70 594.50" fill="none" stroke="#2a2a2a" stroke-width="0.7"/>
<path d="M389.70 594.50 L386.13 594.72 L387.38 591.77 Z" fill="#2a2a2a"/>
<text x="385.30" y="589.50" font-size="5.2" font-family="'Liberation Serif', 'Times New Roman', serif" fill="#222" text-anchor="middle">+p</text>
<path d="M324.50 632.40 L331.00 617.40" fill="none" stroke="#2a2a2a" stroke-width="0.7"/>
<line x1="333.02" y1="618.27" x2="328.98" y2="616.53" stroke="#2a2a2a" stroke-width="0.8"/>
<path d="M345.00 632.40 L337.50 617.40" fill="none" stroke="#2a2a2a" stroke-width="0.7"/>
<line x1="339.47" y1="616.42" x2="335.53" y2="618.38" stroke="#2a2a2a" stroke-width="0.8"/>
<text x="321.00" y="625.50" font-size="5.2" font-family="'Liberation Serif', 'Times New Roman', serif" fill="#222" text-anchor="middle">-p</text>
<text x="343.80" y="625.50" font-size="5.2" font-family="'Liberation Serif', 'Times New Roman', serif" fill="#222" text-anchor="middle">-p</text>
<line x1="409.50" y1="608.40" x2="417.30" y2="612.80" stroke="#2a2a2a" stroke-width="0.7"/>
<line x1="409.50" y1="618.20" x2="417.30" y2="612.80" stroke="#2a2a2a" stroke-width="0.7"/>
<path d="M437.80 612.80 L447.60 612.80" fill="none" stroke="#2a2a2a" stroke-width="0.7"/>
<path d="M447.60 612.80 L444.40 614.40 L444.40 611.20 Z" fill="#2a2a2a"/>
<circle cx="449.80" cy="612.50" r="2.00" fill="#fff" stroke="#222" stroke-width="0.8"/>
<text x="449.80" y="623.10" font-size="6.2" font-family="'Liberation Serif', 'Times New Roman', serif" fill="#222" text-anchor="middle" stroke="#222" stroke-width="0.08">DNA</text>
<path d="M452.00 612.80 L463.00 612.80" fill="none" stroke="#2a2a2a" stroke-width="0.7"/>
<path d="M463.00 612.80 L459.80 614.40 L459.80 611.20 Z" fill="#2a2a2a"/>
<path d="M482.50 612.80 L492.90 612.80" fill="none" stroke="#2a2a2a" stroke-width="0.7"/>
<path d="M492.90 612.80 L489.70 614.40 L489.70 611.20 Z" fill="#2a2a2a"/>
<path d="M409.50 595.80 L492.90 611.20" fill="none" stroke="#2a2a2a" stroke-width="0.7"/>
<path d="M492.90 611.20 L489.46 612.19 L490.04 609.05 Z" fill="#2a2a2a"/>
<circle cx="495.10" cy="612.50" r="2.00" fill="#fff" stroke="#222" stroke-width="0.8"/>
<text x="495.10" y="623.10" font-size="6.2" font-family="'Liberation Serif', 'Times New Roman', serif" fill="#222" text-anchor="middle" stroke="#222" stroke-width="0.08">DNA</text>
<path d="M497.80 612.50 L513.00 612.50" fill="none" stroke="#666" stroke-width="0.7" stroke-dasharray="2.5 2"/>
<path d="M513.00 612.50 L509.80 614.10 L509.80 610.90 Z" fill="#2a2a2a"/>
<text x="532.50" y="612.80" font-size="5.3" font-family="'Liberation Serif', 'Times New Roman', serif" fill="#222" text-anchor="middle" textLength="28.00" lengthAdjust="spacingAndGlyphs" stroke="#222" stroke-width="0.08">Proliferation,</text>
<text x="532.50" y="617.60" font-size="5.3" font-family="'Liberation Serif', 'Times New Roman', serif" fill="#222" text-anchor="middle" textLength="29.50" lengthAdjust="spacingAndGlyphs" stroke="#222" stroke-width="0.08">differentiation</text>
<text x="455.50" y="530.50" font-size="5.3" font-family="'Liberation Serif', 'Times New Roman', serif" fill="#222" text-anchor="middle" textLength="28.00" lengthAdjust="spacingAndGlyphs" stroke="#222" stroke-width="0.08">Proliferation,</text>
<text x="455.50" y="535.30" font-size="5.3" font-family="'Liberation Serif', 'Times New Roman', serif" fill="#222" text-anchor="middle" textLength="27.00" lengthAdjust="spacingAndGlyphs" stroke="#222" stroke-width="0.08">inflammation,</text>
<text x="455.50" y="540.10" font-size="5.3" font-family="'Liberation Serif', 'Times New Roman', serif" fill="#222" text-anchor="middle" textLength="28.50" lengthAdjust="spacingAndGlyphs" stroke="#222" stroke-width="0.08">anti-apoptosis</text>
<circle cx="178.80" cy="535.40" r="2.00" fill="#fff" stroke="#222" stroke-width="0.8"/>
<text x="179.00" y="544.60" font-size="5.3" font-family="'Liberation Serif', 'Times New Roman', serif" fill="#222" text-anchor="middle" stroke="#222" stroke-width="0.08">IP3</text>
<circle cx="194.90" cy="529.90" r="2.00" fill="#fff" stroke="#222" stroke-width="0.8"/>
<text x="194.30" y="539.50" font-size="5.3" font-family="'Liberation Serif', 'Times New Roman', serif" fill="#222" text-anchor="middle" stroke="#222" stroke-width="0.08">cAMP</text>
<circle cx="213.00" cy="535.40" r="2.00" fill="#fff" stroke="#222" stroke-width="0.8"/>
<text x="212.40" y="544.20" font-size="5.3" font-family="'Liberation Serif', 'Times New Roman', serif" fill="#222" text-anchor="middle" stroke="#222" stroke-width="0.08">DAG</text>
<circle cx="136.90" cy="552.50" r="2.00" fill="#fff" stroke="#222" stroke-width="0.8"/>
<text x="135.30" y="563.00" font-size="5.6" font-family="'Liberation Serif', 'Times New Roman', serif" fill="#222" text-anchor="middle" stroke="#222" stroke-width="0.08">Ca</text>
<text x="139.60" y="559.30" font-size="3.6" font-family="'Liberation Serif', 'Times New Roman', serif" fill="#222" text-anchor="middle" stroke="#222" stroke-width="0.08">2+</text>
<text x="123.50" y="535.80" font-size="5.4" font-family="'Liberation Serif', 'Times New Roman', serif" fill="#222" text-anchor="middle" textLength="32.90" lengthAdjust="spacingAndGlyphs" stroke="#222" stroke-width="0.08">Heterotrimeric</text>
<text x="123.90" y="540.80" font-size="5.4" font-family="'Liberation Serif', 'Times New Roman', serif" fill="#222" text-anchor="middle" textLength="20.00" lengthAdjust="spacingAndGlyphs" stroke="#222" stroke-width="0.08">G-protein</text>
<rect x="248.50" y="506.00" width="53.70" height="16.90" fill="#fff" stroke="#333" stroke-width="0.8" rx="5"/>
<text x="275.35" y="513.62" font-size="5.724000000000001" font-family="'Liberation Serif', 'Times New Roman', serif" fill="#222" text-anchor="middle" stroke="#222" stroke-width="0.08">Phosphatidylinositol</text>
<text x="275.35" y="519.06" font-size="5.724000000000001" font-family="'Liberation Serif', 'Times New Roman', serif" fill="#222" text-anchor="middle" stroke="#222" stroke-width="0.08">signaling system</text>
<path d="M84.80 724.30 L127.50 724.30" fill="none" stroke="#555" stroke-width="0.7" stroke-dasharray="3 2"/>
<path d="M127.50 724.30 L124.30 725.90 L124.30 722.70 Z" fill="#2a2a2a"/>
<text x="51.00" y="719.20" font-size="5.4" font-family="'Liberation Serif', 'Times New Roman', serif" fill="#222" text-anchor="middle" textLength="54.50" lengthAdjust="spacingAndGlyphs" stroke="#222" stroke-width="0.08">Serum, cytotoxic drugs,</text>
<text x="51.00" y="724.30" font-size="5.4" font-family="'Liberation Serif', 'Times New Roman', serif" fill="#222" text-anchor="middle" textLength="50.00" lengthAdjust="spacingAndGlyphs" stroke="#222" stroke-width="0.08">irradiation, heatshock,</text>
<text x="51.00" y="729.40" font-size="5.4" font-family="'Liberation Serif', 'Times New Roman', serif" fill="#222" text-anchor="middle" textLength="55.00" lengthAdjust="spacingAndGlyphs" stroke="#222" stroke-width="0.08">reactive oxygen species,</text>
<text x="51.00" y="734.50" font-size="5.4" font-family="'Liberation Serif', 'Times New Roman', serif" fill="#222" text-anchor="middle" textLength="42.00" lengthAdjust="spacingAndGlyphs" stroke="#222" stroke-width="0.08">lipopolysaccharide,</text>
<text x="51.00" y="739.60" font-size="5.4" font-family="'Liberation Serif', 'Times New Roman', serif" fill="#222" text-anchor="middle" textLength="35.50" lengthAdjust="spacingAndGlyphs" stroke="#222" stroke-width="0.08">and other stress</text>
<path d="M69.40 757.80 L85.50 757.80" fill="none" stroke="#2a2a2a" stroke-width="0.7"/>
<path d="M85.50 757.80 L82.30 759.40 L82.30 756.20 Z" fill="#2a2a2a"/>
<path d="M69.40 767.90 L85.50 767.90" fill="none" stroke="#2a2a2a" stroke-width="0.7"/>
<path d="M85.50 767.90 L82.30 769.50 L82.30 766.30 Z" fill="#2a2a2a"/>
<path d="M69.40 780.10 L85.50 780.10" fill="none" stroke="#2a2a2a" stroke-width="0.7"/>
<path d="M85.50 780.10 L82.30 781.70 L82.30 778.50 Z" fill="#2a2a2a"/>
<path d="M69.40 790.00 L85.50 790.00" fill="none" stroke="#2a2a2a" stroke-width="0.7"/>
<path d="M85.50 790.00 L82.30 791.60 L82.30 788.40 Z" fill="#2a2a2a"/>
<circle cx="59.60" cy="802.20" r="2.40" fill="#fff" stroke="#222" stroke-width="0.8"/>
<text x="60.20" y="812.00" font-size="7.6" font-family="'Liberation Serif', 'Times New Roman', serif" fill="#222" text-anchor="middle" textLength="10.80" lengthAdjust="spacingAndGlyphs" stroke="#222" stroke-width="0.08">LPS</text>
<path d="M69.40 802.90 L85.50 802.90" fill="none" stroke="#2a2a2a" stroke-width="0.7"/>
<path d="M85.50 802.90 L82.30 804.50 L82.30 801.30 Z" fill="#2a2a2a"/>
<path d="M108.00 764.00 L160.90 745.30" fill="none" stroke="#2a2a2a" stroke-width="0.7"/>
<path d="M160.90 745.30 L158.42 747.88 L157.35 744.86 Z" fill="#2a2a2a"/>
<path d="M108.00 764.00 L160.90 763.40" fill="none" stroke="#2a2a2a" stroke-width="0.7"/>
<path d="M160.90 763.40 L157.72 765.04 L157.68 761.84 Z" fill="#2a2a2a"/>
<path d="M108.00 764.00 L176.30 798.20" fill="none" stroke="#2a2a2a" stroke-width="0.7" stroke-dasharray="2.2 1.2"/>
<path d="M176.30 798.20 L172.72 798.20 L174.16 795.34 Z" fill="#2a2a2a"/>
<path d="M108.00 764.00 L147.50 812.00" fill="none" stroke="#2a2a2a" stroke-width="0.7" stroke-dasharray="2.2 1.2"/>
<path d="M147.50 812.00 L144.23 810.55 L146.70 808.51 Z" fill="#2a2a2a"/>
<path d="M105.30 784.70 L167.30 784.70" fill="none" stroke="#2a2a2a" stroke-width="0.7"/>
<path d="M167.30 784.70 L164.10 786.30 L164.10 783.10 Z" fill="#2a2a2a"/>
<path d="M188.10 784.70 L243.40 784.70" fill="none" stroke="#2a2a2a" stroke-width="0.7"/>
<path d="M243.40 784.70 L240.20 786.30 L240.20 783.10 Z" fill="#2a2a2a"/>
<path d="M105.3 802.9 L176.3 798.2" fill="none" stroke="#555" stroke-width="0.8" stroke-dasharray="3 2"/>
<path d="M181.40 763.40 L205.30 763.40" fill="none" stroke="#2a2a2a" stroke-width="0.7"/>
<path d="M205.30 763.40 L202.10 765.00 L202.10 761.80 Z" fill="#2a2a2a"/>
<path d="M181.40 763.40 L243.40 783.50" fill="none" stroke="#2a2a2a" stroke-width="0.7"/>
<path d="M243.40 783.50 L239.86 784.04 L240.85 780.99 Z" fill="#2a2a2a"/>
<path d="M181.40 745.20 L205.60 745.20" fill="none" stroke="#2a2a2a" stroke-width="0.7"/>
<path d="M205.60 745.20 L202.40 746.80 L202.40 743.60 Z" fill="#2a2a2a"/>
<path d="M196.80 798.20 L243.40 798.20" fill="none" stroke="#2a2a2a" stroke-width="0.7"/>
<path d="M243.40 798.20 L240.20 799.80 L240.20 796.60 Z" fill="#2a2a2a"/>
<path d="M196.80 808.50 L243.40 799.50" fill="none" stroke="#2a2a2a" stroke-width="0.7"/>
<path d="M243.40 799.50 L240.56 801.68 L239.95 798.54 Z" fill="#2a2a2a"/>
<line x1="168.00" y1="812.50" x2="176.30" y2="808.50" stroke="#2a2a2a" stroke-width="0.7"/>
<line x1="168.00" y1="815.50" x2="176.30" y2="818.00" stroke="#2a2a2a" stroke-width="0.7"/>
<path d="M168.00 827.80 L243.50 827.80" fill="none" stroke="#2a2a2a" stroke-width="0.7"/>
<path d="M243.50 827.80 L240.30 829.40 L240.30 826.20 Z" fill="#2a2a2a"/>
<path d="M70.60 827.70 L147.50 827.70" fill="none" stroke="#555" stroke-width="0.7" stroke-dasharray="3 2"/>
<path d="M147.50 827.70 L144.30 829.30 L144.30 826.10 Z" fill="#2a2a2a"/>
<text x="50.70" y="829.60" font-size="6.2" font-family="'Liberation Serif', 'Times New Roman', serif" fill="#222" text-anchor="middle" textLength="34.60" lengthAdjust="spacingAndGlyphs" stroke="#222" stroke-width="0.08">DNA damage</text>
<line x1="226.10" y1="675.80" x2="240.00" y2="686.00" stroke="#2a2a2a" stroke-width="0.7"/>
<line x1="226.10" y1="690.50" x2="240.00" y2="686.00" stroke="#2a2a2a" stroke-width="0.7"/>
<line x1="226.10" y1="704.00" x2="240.00" y2="686.00" stroke="#2a2a2a" stroke-width="0.7"/>
<line x1="226.10" y1="716.50" x2="240.00" y2="686.00" stroke="#2a2a2a" stroke-width="0.7"/>
<line x1="181.40" y1="742.50" x2="240.00" y2="686.00" stroke="#2a2a2a" stroke-width="0.7"/>
<line x1="176.00" y1="741.70" x2="240.00" y2="686.00" stroke="#2a2a2a" stroke-width="0.7"/>
<line x1="181.40" y1="760.50" x2="240.00" y2="686.00" stroke="#2a2a2a" stroke-width="0.7"/>
<line x1="188.30" y1="716.50" x2="206.50" y2="706.50" stroke="#2a2a2a" stroke-width="0.7"/>
<path d="M237.5 682 L242.8 684.3 L242.8 688.3 L237.5 690.5 Q236.2 686.2 237.5 682 Z" fill="#111"/>
<path d="M226.10 704.70 L242.60 704.70" fill="none" stroke="#2a2a2a" stroke-width="0.7"/>
<path d="M242.60 704.70 L239.40 706.30 L239.40 703.10 Z" fill="#2a2a2a"/>
<path d="M226.10 718.80 L242.60 718.80" fill="none" stroke="#2a2a2a" stroke-width="0.7"/>
<path d="M242.60 718.80 L239.40 720.40 L239.40 717.20 Z" fill="#2a2a2a"/>
<line x1="188.30" y1="718.80" x2="206.30" y2="718.80" stroke="#2a2a2a" stroke-width="0.7"/>
<text x="233.50" y="678.00" font-size="5.2" font-family="'Liberation Serif', 'Times New Roman', serif" fill="#222" text-anchor="middle">+p</text>
<text x="233.50" y="685.00" font-size="5.2" font-family="'Liberation Serif', 'Times New Roman', serif" fill="#222" text-anchor="middle">+p</text>
<text x="233.50" y="709.00" font-size="5.2" font-family="'Liberation Serif', 'Times New Roman', serif" fill="#222" text-anchor="middle">+p</text>
<text x="233.50" y="716.50" font-size="5.2" font-family="'Liberation Serif', 'Times New Roman', serif" fill="#222" text-anchor="middle">+p</text>
<text x="194.00" y="686.50" font-size="5.6" font-family="'Liberation Serif', 'Times New Roman', serif" fill="#222" text-anchor="middle" textLength="17.00" lengthAdjust="spacingAndGlyphs" stroke="#222" stroke-width="0.08">Scaffold</text>
<text x="296.30" y="601.50" font-size="5.6" font-family="'Liberation Serif', 'Times New Roman', serif" fill="#222" text-anchor="middle" textLength="19.70" lengthAdjust="spacingAndGlyphs" stroke="#222" stroke-width="0.08">Scaffold</text>
<path d="M263.60 685.00 L285.70 690.20" fill="none" stroke="#2a2a2a" stroke-width="0.7"/>
<path d="M285.70 690.20 L282.22 691.02 L282.95 687.91 Z" fill="#2a2a2a"/>
<path d="M263.60 704.60 L285.70 704.80" fill="none" stroke="#2a2a2a" stroke-width="0.7"/>
<path d="M285.70 704.80 L282.49 706.37 L282.51 703.17 Z" fill="#2a2a2a"/>
<line x1="263.60" y1="718.80" x2="283.50" y2="705.50" stroke="#2a2a2a" stroke-width="0.7"/>
<line x1="263.60" y1="734.80" x2="283.50" y2="705.50" stroke="#2a2a2a" stroke-width="0.7"/>
<line x1="263.60" y1="743.30" x2="283.50" y2="705.50" stroke="#2a2a2a" stroke-width="0.7"/>
<line x1="265.00" y1="675.00" x2="283.50" y2="705.50" stroke="#2a2a2a" stroke-width="0.7"/>
<path d="M281 702 L285.7 704.8 L282 708.5 Z" fill="#111"/>
<text x="275.00" y="700.50" font-size="5.2" font-family="'Liberation Serif', 'Times New Roman', serif" fill="#222" text-anchor="middle">+p</text>
<text x="275.50" y="712.00" font-size="5.2" font-family="'Liberation Serif', 'Times New Roman', serif" fill="#222" text-anchor="middle">+p</text>
<line x1="265.20" y1="672.50" x2="280.80" y2="616.00" stroke="#2a2a2a" stroke-width="0.7"/>
<path d="M306.30 690.20 L323.50 696.50" fill="none" stroke="#2a2a2a" stroke-width="0.7"/>
<path d="M323.50 696.50 L319.94 696.90 L321.05 693.90 Z" fill="#2a2a2a"/>
<path d="M306.30 704.80 L323.50 697.50" fill="none" stroke="#2a2a2a" stroke-width="0.7"/>
<path d="M323.50 697.50 L321.18 700.22 L319.93 697.28 Z" fill="#2a2a2a"/>
<text x="312.00" y="689.50" font-size="5.2" font-family="'Liberation Serif', 'Times New Roman', serif" fill="#222" text-anchor="middle">+p</text>
<text x="312.00" y="698.00" font-size="5.2" font-family="'Liberation Serif', 'Times New Roman', serif" fill="#222" text-anchor="middle">+p</text>
<path d="M344.00 696.00 L387.70 676.50" fill="none" stroke="#2a2a2a" stroke-width="0.7"/>
<line x1="388.60" y1="678.51" x2="386.80" y2="674.49" stroke="#2a2a2a" stroke-width="0.8"/>
<path d="M344.00 697.20 L388.70 692.50" fill="none" stroke="#2a2a2a" stroke-width="0.7"/>
<path d="M388.70 692.50 L385.68 694.43 L385.35 691.24 Z" fill="#2a2a2a"/>
<path d="M344.00 699.00 L387.70 731.00" fill="none" stroke="#2a2a2a" stroke-width="0.7"/>
<path d="M387.70 731.00 L384.17 730.40 L386.06 727.82 Z" fill="#2a2a2a"/>
<text x="376.50" y="675.00" font-size="5.2" font-family="'Liberation Serif', 'Times New Roman', serif" fill="#222" text-anchor="middle">+p</text>
<text x="376.50" y="694.00" font-size="5.2" font-family="'Liberation Serif', 'Times New Roman', serif" fill="#222" text-anchor="middle">+p</text>
<text x="380.00" y="720.50" font-size="5.2" font-family="'Liberation Serif', 'Times New Roman', serif" fill="#222" text-anchor="middle">+p</text>
<path d="M371.00 651.50 L387.50 672.00" fill="none" stroke="#2a2a2a" stroke-width="0.7"/>
<path d="M387.50 672.00 L384.25 670.51 L386.74 668.50 Z" fill="#2a2a2a"/>
<text x="384.50" y="663.00" font-size="5.2" font-family="'Liberation Serif', 'Times New Roman', serif" fill="#222" text-anchor="middle">-P</text>
<path d="M340.00 679.50 L330.00 692.80" fill="none" stroke="#2a2a2a" stroke-width="0.7"/>
<line x1="328.24" y1="691.48" x2="331.76" y2="694.12" stroke="#2a2a2a" stroke-width="0.8"/>
<path d="M326.50 743.00 L331.00 702.40" fill="none" stroke="#2a2a2a" stroke-width="0.7"/>
<line x1="333.19" y1="702.64" x2="328.81" y2="702.16" stroke="#2a2a2a" stroke-width="0.8"/>
<path d="M344.50 732.70 L342.00 702.40" fill="none" stroke="#2a2a2a" stroke-width="0.7"/>
<line x1="344.19" y1="702.22" x2="339.81" y2="702.58" stroke="#2a2a2a" stroke-width="0.8"/>
<text x="331.30" y="710.00" font-size="5.2" font-family="'Liberation Serif', 'Times New Roman', serif" fill="#222" text-anchor="middle">-P</text>
<text x="342.70" y="710.00" font-size="5.2" font-family="'Liberation Serif', 'Times New Roman', serif" fill="#222" text-anchor="middle">-P</text>
<path d="M295.50 732.70 L295.50 711.80" fill="none" stroke="#2a2a2a" stroke-width="0.7"/>
<line x1="297.70" y1="711.80" x2="293.30" y2="711.80" stroke="#2a2a2a" stroke-width="0.8"/>
<text x="299.80" y="719.00" font-size="5.2" font-family="'Liberation Serif', 'Times New Roman', serif" fill="#222" text-anchor="middle">-P</text>
<path d="M409.70 695.20 L455.10 695.20" fill="none" stroke="#2a2a2a" stroke-width="0.7"/>
<path d="M455.10 695.20 L451.90 696.80 L451.90 693.60 Z" fill="#2a2a2a"/>
<circle cx="471.50" cy="695.90" r="2.00" fill="#fff" stroke="#222" stroke-width="0.8"/>
<text x="471.50" y="706.60" font-size="6.2" font-family="'Liberation Serif', 'Times New Roman', serif" fill="#222" text-anchor="middle" stroke="#222" stroke-width="0.08">DNA</text>
<path d="M495.3 696 H532 V707" fill="none" stroke="#555" stroke-width="0.8" stroke-dasharray="3 2"/>
<path d="M532.00 709.90 L530.40 706.70 L533.60 706.70 Z" fill="#2a2a2a"/>
<path d="M409.7 745.8 H431.5" fill="none" stroke="#555" stroke-width="0.8" stroke-dasharray="3 2"/>
<circle cx="433.00" cy="745.80" r="1.40" fill="#fff" stroke="#444" stroke-width="0.7"/>
<path d="M266.00 785.00 L283.10 785.00" fill="none" stroke="#2a2a2a" stroke-width="0.7"/>
<path d="M283.10 785.00 L279.90 786.60 L279.90 783.40 Z" fill="#2a2a2a"/>
<text x="276.90" y="782.30" font-size="5.2" font-family="'Liberation Serif', 'Times New Roman', serif" fill="#222" text-anchor="middle">+p</text>
<path d="M307.00 785.00 L323.00 785.00" fill="none" stroke="#2a2a2a" stroke-width="0.7"/>
<path d="M323.00 785.00 L319.80 786.60 L319.80 783.40 Z" fill="#2a2a2a"/>
<text x="313.90" y="782.60" font-size="5.2" font-family="'Liberation Serif', 'Times New Roman', serif" fill="#222" text-anchor="middle">+p</text>
<path d="M281.00 750.30 L264.80 780.20" fill="none" stroke="#2a2a2a" stroke-width="0.7"/>
<line x1="262.87" y1="779.15" x2="266.73" y2="781.25" stroke="#2a2a2a" stroke-width="0.8"/>
<text x="281.70" y="760.50" font-size="5.2" font-family="'Liberation Serif', 'Times New Roman', serif" fill="#222" text-anchor="middle">+p</text>
<path d="M299.50 740.50 L295.40 772.20" fill="none" stroke="#2a2a2a" stroke-width="0.7"/>
<line x1="293.22" y1="771.92" x2="297.58" y2="772.48" stroke="#2a2a2a" stroke-width="0.8"/>
<text x="300.40" y="767.20" font-size="5.2" font-family="'Liberation Serif', 'Times New Roman', serif" fill="#222" text-anchor="middle">-P</text>
<path d="M324.90 749.80 L329.70 779.00" fill="none" stroke="#2a2a2a" stroke-width="0.7"/>
<line x1="327.53" y1="779.36" x2="331.87" y2="778.64" stroke="#2a2a2a" stroke-width="0.8"/>
<path d="M344.50 739.90 L338.00 779.00" fill="none" stroke="#2a2a2a" stroke-width="0.7"/>
<line x1="335.83" y1="778.64" x2="340.17" y2="779.36" stroke="#2a2a2a" stroke-width="0.8"/>
<text x="324.20" y="773.50" font-size="5.2" font-family="'Liberation Serif', 'Times New Roman', serif" fill="#222" text-anchor="middle">-P</text>
<text x="342.50" y="773.50" font-size="5.2" font-family="'Liberation Serif', 'Times New Roman', serif" fill="#222" text-anchor="middle">-P</text>
<path d="M286.50 804.20 L263.60 791.00" fill="none" stroke="#2a2a2a" stroke-width="0.7"/>
<line x1="264.70" y1="789.09" x2="262.50" y2="792.91" stroke="#2a2a2a" stroke-width="0.8"/>
<text x="281.70" y="798.00" font-size="5.2" font-family="'Liberation Serif', 'Times New Roman', serif" fill="#222" text-anchor="middle">-P</text>
<line x1="263.40" y1="798.20" x2="273.50" y2="798.20" stroke="#2a2a2a" stroke-width="0.7"/>
<path d="M256.00 811.40 L252.00 803.00" fill="none" stroke="#2a2a2a" stroke-width="0.7"/>
<line x1="253.99" y1="802.05" x2="250.01" y2="803.95" stroke="#2a2a2a" stroke-width="0.8"/>
<text x="261.50" y="808.50" font-size="5.2" font-family="'Liberation Serif', 'Times New Roman', serif" fill="#222" text-anchor="middle">-P</text>
<path d="M343.50 785.20 L388.00 785.20" fill="none" stroke="#2a2a2a" stroke-width="0.7"/>
<path d="M388.00 785.20 L384.80 786.80 L384.80 783.60 Z" fill="#2a2a2a"/>
<text x="375.30" y="783.00" font-size="5.2" font-family="'Liberation Serif', 'Times New Roman', serif" fill="#222" text-anchor="middle">+p</text>
<path d="M343.50 782.50 L387.70 738.50" fill="none" stroke="#2a2a2a" stroke-width="0.7"/>
<path d="M387.70 738.50 L386.56 741.89 L384.30 739.62 Z" fill="#2a2a2a"/>
<path d="M337.00 788.80 L361.50 820.00" fill="none" stroke="#2a2a2a" stroke-width="0.7"/>
<path d="M361.50 820.00 L358.27 818.47 L360.78 816.50 Z" fill="#2a2a2a"/>
<text x="350.70" y="814.50" font-size="5.2" font-family="'Liberation Serif', 'Times New Roman', serif" fill="#222" text-anchor="middle">+p</text>
<path d="M382.20 813.50 L389.90 813.80" fill="none" stroke="#2a2a2a" stroke-width="0.7"/>
<path d="M389.90 813.80 L386.64 815.27 L386.76 812.08 Z" fill="#2a2a2a"/>
<path d="M382.20 827.00 L389.90 828.00" fill="none" stroke="#2a2a2a" stroke-width="0.7"/>
<path d="M389.90 828.00 L386.52 829.17 L386.93 826.00 Z" fill="#2a2a2a"/>
<text x="385.50" y="811.00" font-size="5.2" font-family="'Liberation Serif', 'Times New Roman', serif" fill="#222" text-anchor="middle">+p</text>
<text x="385.50" y="822.00" font-size="5.2" font-family="'Liberation Serif', 'Times New Roman', serif" fill="#222" text-anchor="middle">+p</text>
<path d="M409.90 785.70 L454.00 785.70" fill="none" stroke="#2a2a2a" stroke-width="0.7"/>
<path d="M454.00 785.70 L450.80 787.30 L450.80 784.10 Z" fill="#2a2a2a"/>
<circle cx="471.20" cy="783.80" r="2.00" fill="#fff" stroke="#222" stroke-width="0.8"/>
<text x="471.20" y="794.20" font-size="6.2" font-family="'Liberation Serif', 'Times New Roman', serif" fill="#222" text-anchor="middle" stroke="#222" stroke-width="0.08">DNA</text>
<path d="M494.4 785.7 H531.8 V774" fill="none" stroke="#555" stroke-width="0.8" stroke-dasharray="3 2"/>
<path d="M531.80 771.00 L533.40 774.20 L530.20 774.20 Z" fill="#2a2a2a"/>
<path d="M273.5 846.5 Q273.5 850.5 277.5 850.5 H330.5" fill="none" stroke="#2a2a2a" stroke-width="0.8"/>
<path d="M333.60 850.50 L330.40 852.10 L330.40 848.90 Z" fill="#2a2a2a"/>
<text x="323.40" y="848.50" font-size="5.2" font-family="'Liberation Serif', 'Times New Roman', serif" fill="#222" text-anchor="middle">+p</text>
<path d="M352.2 850.5 H431.5" fill="none" stroke="#555" stroke-width="0.8" stroke-dasharray="3 2"/>
<circle cx="433.00" cy="850.30" r="1.40" fill="#fff" stroke="#444" stroke-width="0.7"/>
<path d="M84.80 877.80 L285.00 877.80" fill="none" stroke="#555" stroke-width="0.7" stroke-dasharray="3 2"/>
<path d="M285.00 877.80 L281.80 879.40 L281.80 876.20 Z" fill="#2a2a2a"/>
<path d="M305.60 878.00 L323.40 878.00" fill="none" stroke="#2a2a2a" stroke-width="0.7"/>
<path d="M323.40 878.00 L320.20 879.60 L320.20 876.40 Z" fill="#2a2a2a"/>
<text x="313.80" y="874.50" font-size="5.2" font-family="'Liberation Serif', 'Times New Roman', serif" fill="#222" text-anchor="middle">+p</text>
<path d="M343.40 878.00 L389.20 878.00" fill="none" stroke="#2a2a2a" stroke-width="0.7"/>
<path d="M389.20 878.00 L386.00 879.60 L386.00 876.40 Z" fill="#2a2a2a"/>
<text x="376.80" y="874.50" font-size="5.2" font-family="'Liberation Serif', 'Times New Roman', serif" fill="#222" text-anchor="middle">+p</text>
<path d="M409.20 878.00 L454.30 878.00" fill="none" stroke="#2a2a2a" stroke-width="0.7"/>
<path d="M454.30 878.00 L451.10 879.60 L451.10 876.40 Z" fill="#2a2a2a"/>
<circle cx="471.40" cy="877.00" r="2.00" fill="#fff" stroke="#222" stroke-width="0.8"/>
<text x="471.40" y="888.60" font-size="6.2" font-family="'Liberation Serif', 'Times New Roman', serif" fill="#222" text-anchor="middle" stroke="#222" stroke-width="0.08">DNA</text>
<path d="M495.30 878.00 L507.00 878.00" fill="none" stroke="#666" stroke-width="0.7" stroke-dasharray="2.5 2"/>
<path d="M507.00 878.00 L503.80 879.60 L503.80 876.40 Z" fill="#2a2a2a"/>
<text x="532.40" y="876.80" font-size="5.3" font-family="'Liberation Serif', 'Times New Roman', serif" fill="#222" text-anchor="middle" textLength="30.00" lengthAdjust="spacingAndGlyphs" stroke="#222" stroke-width="0.08">Proliferation,</text>
<text x="532.40" y="881.80" font-size="5.3" font-family="'Liberation Serif', 'Times New Roman', serif" fill="#222" text-anchor="middle" textLength="33.70" lengthAdjust="spacingAndGlyphs" stroke="#222" stroke-width="0.08">differentiation</text>
<text x="57.00" y="868.00" font-size="5.4" font-family="'Liberation Serif', 'Times New Roman', serif" fill="#222" text-anchor="middle" textLength="27.50" lengthAdjust="spacingAndGlyphs" stroke="#222" stroke-width="0.08">Serum, EGF,</text>
<text x="57.00" y="873.20" font-size="5.4" font-family="'Liberation Serif', 'Times New Roman', serif" fill="#222" text-anchor="middle" textLength="55.30" lengthAdjust="spacingAndGlyphs" stroke="#222" stroke-width="0.08">reactive oxygen species,</text>
<text x="57.00" y="878.40" font-size="5.4" font-family="'Liberation Serif', 'Times New Roman', serif" fill="#222" text-anchor="middle" stroke="#222" stroke-width="0.08">or</text>
<text x="57.00" y="883.60" font-size="5.4" font-family="'Liberation Serif', 'Times New Roman', serif" fill="#222" text-anchor="middle" textLength="40.00" lengthAdjust="spacingAndGlyphs" stroke="#222" stroke-width="0.08">Src tyrosinkinase</text>
<text x="57.00" y="888.80" font-size="5.4" font-family="'Liberation Serif', 'Times New Roman', serif" fill="#222" text-anchor="middle" textLength="27.00" lengthAdjust="spacingAndGlyphs" stroke="#222" stroke-width="0.08">downstream</text>
<text x="3.00" y="911.20" font-size="5.2" font-family="'Liberation Serif', 'Times New Roman', serif" fill="#222" text-anchor="start" textLength="33.00" lengthAdjust="spacingAndGlyphs" stroke="#222" stroke-width="0.08">04010 7/24/13</text>
<text x="3.00" y="916.30" font-size="5.2" font-family="'Liberation Serif', 'Times New Roman', serif" fill="#222" text-anchor="start" textLength="58.60" lengthAdjust="spacingAndGlyphs" stroke="#222" stroke-width="0.08">(c) Kanehisa Laboratories</text>
<text x="219.50" y="911.30" font-size="5.6" font-family="'Liberation Serif', 'Times New Roman', serif" fill="#111" font-weight="bold" text-anchor="middle" textLength="30.60" lengthAdjust="spacingAndGlyphs" stroke="#111" stroke-width="0.22">MAPKKKK</text>
<text x="253.40" y="911.30" font-size="5.6" font-family="'Liberation Serif', 'Times New Roman', serif" fill="#111" font-weight="bold" text-anchor="middle" textLength="25.60" lengthAdjust="spacingAndGlyphs" stroke="#111" stroke-width="0.22">MAPKKK</text>
<text x="296.00" y="911.30" font-size="5.6" font-family="'Liberation Serif', 'Times New Roman', serif" fill="#111" font-weight="bold" text-anchor="middle" textLength="22.00" lengthAdjust="spacingAndGlyphs" stroke="#111" stroke-width="0.22">MAPKK</text>
<text x="334.80" y="911.30" font-size="5.6" font-family="'Liberation Serif', 'Times New Roman', serif" fill="#111" font-weight="bold" text-anchor="middle" textLength="17.20" lengthAdjust="spacingAndGlyphs" stroke="#111" stroke-width="0.22">MAPK</text>
<text x="399.50" y="908.40" font-size="5.6" font-family="'Liberation Serif', 'Times New Roman', serif" fill="#111" font-weight="bold" text-anchor="middle" textLength="34.30" lengthAdjust="spacingAndGlyphs" stroke="#111" stroke-width="0.22">Transcription</text>
<text x="399.50" y="913.40" font-size="5.6" font-family="'Liberation Serif', 'Times New Roman', serif" fill="#111" font-weight="bold" text-anchor="middle" textLength="15.00" lengthAdjust="spacingAndGlyphs" stroke="#111" stroke-width="0.22">factor</text>
<rect x="434.10" y="737.10" width="41.30" height="17.50" fill="#fff" stroke="#333" stroke-width="0.8" rx="5"/>
<text x="454.75" y="745.04" font-size="5.618" font-family="'Liberation Serif', 'Times New Roman', serif" fill="#222" text-anchor="middle" stroke="#222" stroke-width="0.08">p53 signaling</text>
<text x="454.75" y="750.37" font-size="5.618" font-family="'Liberation Serif', 'Times New Roman', serif" fill="#222" text-anchor="middle" stroke="#222" stroke-width="0.08">pathway</text>
<rect x="433.50" y="842.50" width="42.10" height="16.30" fill="#fff" stroke="#333" stroke-width="0.8" rx="5"/>
<text x="454.55" y="849.90" font-size="5.194000000000001" font-family="'Liberation Serif', 'Times New Roman', serif" fill="#222" text-anchor="middle" stroke="#222" stroke-width="0.08">Wnt signaling</text>
<text x="454.55" y="854.83" font-size="5.194000000000001" font-family="'Liberation Serif', 'Times New Roman', serif" fill="#222" text-anchor="middle" stroke="#222" stroke-width="0.08">pathway</text>
<rect x="514.50" y="744.80" width="41.90" height="11.50" fill="#fff" stroke="#333" stroke-width="0.8" rx="5"/>
<text x="535.45" y="752.58" font-size="6.148" font-family="'Liberation Serif', 'Times New Roman', serif" fill="#222" text-anchor="middle" stroke="#222" stroke-width="0.08">Apoptosis</text>
<rect x="561.00" y="681.20" width="17.40" height="118.70" fill="#fff" stroke="#333" stroke-width="0.8" rx="6"/>
<text x="569.70" y="739.00" font-size="6.3" font-family="'Liberation Serif', 'Times New Roman', serif" fill="#222" text-anchor="middle" stroke="#222" stroke-width="0.08">Cell</text>
<text x="569.70" y="745.00" font-size="6.3" font-family="'Liberation Serif', 'Times New Roman', serif" fill="#222" text-anchor="middle" stroke="#222" stroke-width="0.08">cycle</text>
<text x="535.00" y="730.50" font-size="5.3" font-family="'Liberation Serif', 'Times New Roman', serif" fill="#222" text-anchor="middle" textLength="31.00" lengthAdjust="spacingAndGlyphs" stroke="#222" stroke-width="0.08">Proliferation,</text>
<text x="535.00" y="735.30" font-size="5.3" font-family="'Liberation Serif', 'Times New Roman', serif" fill="#222" text-anchor="middle" textLength="33.80" lengthAdjust="spacingAndGlyphs" stroke="#222" stroke-width="0.08">differentiation,</text>
<text x="535.00" y="740.10" font-size="5.3" font-family="'Liberation Serif', 'Times New Roman', serif" fill="#222" text-anchor="middle" textLength="29.00" lengthAdjust="spacingAndGlyphs" stroke="#222" stroke-width="0.08">inflammation</text>
<rect x="48.80" y="569.80" width="20.60" height="6.60" fill="#d6eecd" stroke="#5f705a" stroke-width="0.8"/>
<text x="59.10" y="575.08" font-size="6.0" font-family="'Liberation Serif', 'Times New Roman', serif" fill="#2a4328" text-anchor="middle" stroke="#2a4328" stroke-width="0.12">NGF</text>
<rect x="48.80" y="580.00" width="20.60" height="6.40" fill="#d6eecd" stroke="#5f705a" stroke-width="0.8"/>
<text x="59.10" y="585.18" font-size="6.0" font-family="'Liberation Serif', 'Times New Roman', serif" fill="#2a4328" text-anchor="middle" stroke="#2a4328" stroke-width="0.12">BDNF</text>
<rect x="48.80" y="589.00" width="20.60" height="6.50" fill="#d6eecd" stroke="#5f705a" stroke-width="0.8"/>
<text x="59.10" y="594.23" font-size="6.0" font-family="'Liberation Serif', 'Times New Roman', serif" fill="#2a4328" text-anchor="middle" stroke="#2a4328" stroke-width="0.12">NT3/4</text>
<rect x="48.80" y="600.30" width="20.60" height="6.70" fill="#d6eecd" stroke="#5f705a" stroke-width="0.8"/>
<text x="59.10" y="605.63" font-size="6.0" font-family="'Liberation Serif', 'Times New Roman', serif" fill="#2a4328" text-anchor="middle" stroke="#2a4328" stroke-width="0.12">EGF</text>
<rect x="48.80" y="610.00" width="20.60" height="6.50" fill="#d6eecd" stroke="#5f705a" stroke-width="0.8"/>
<text x="59.10" y="615.23" font-size="6.0" font-family="'Liberation Serif', 'Times New Roman', serif" fill="#2a4328" text-anchor="middle" stroke="#2a4328" stroke-width="0.12">FGF</text>
<rect x="48.80" y="619.00" width="20.60" height="6.50" fill="#d6eecd" stroke="#5f705a" stroke-width="0.8"/>
<text x="59.10" y="624.23" font-size="6.0" font-family="'Liberation Serif', 'Times New Roman', serif" fill="#2a4328" text-anchor="middle" stroke="#2a4328" stroke-width="0.12">PDGF</text>
<rect x="48.80" y="754.40" width="20.60" height="6.90" fill="#d6eecd" stroke="#5f705a" stroke-width="0.8"/>
<text x="59.10" y="759.83" font-size="6.0" font-family="'Liberation Serif', 'Times New Roman', serif" fill="#2a4328" text-anchor="middle" stroke="#2a4328" stroke-width="0.12">TNF</text>
<rect x="48.80" y="764.70" width="20.60" height="6.40" fill="#d6eecd" stroke="#5f705a" stroke-width="0.8"/>
<text x="59.10" y="769.88" font-size="6.0" font-family="'Liberation Serif', 'Times New Roman', serif" fill="#2a4328" text-anchor="middle" stroke="#2a4328" stroke-width="0.12">IL1</text>
<rect x="48.80" y="776.80" width="20.60" height="6.60" fill="#d6eecd" stroke="#5f705a" stroke-width="0.8"/>
<text x="59.10" y="782.08" font-size="6.0" font-family="'Liberation Serif', 'Times New Roman', serif" fill="#2a4328" text-anchor="middle" stroke="#2a4328" stroke-width="0.12">FASL</text>
<rect x="48.80" y="786.50" width="20.60" height="6.90" fill="#d6eecd" stroke="#5f705a" stroke-width="0.8"/>
<text x="59.10" y="791.93" font-size="6.0" font-family="'Liberation Serif', 'Times New Roman', serif" fill="#2a4328" text-anchor="middle" stroke="#2a4328" stroke-width="0.12">TGFB</text>
<rect x="85.40" y="549.30" width="20.20" height="7.50" fill="#d6eecd" stroke="#5f705a" stroke-width="0.8"/>
<text x="95.50" y="555.03" font-size="6.0" font-family="'Liberation Serif', 'Times New Roman', serif" fill="#2a4328" text-anchor="middle" stroke="#2a4328" stroke-width="0.12">CACN</text>
<rect x="85.50" y="580.00" width="19.80" height="6.50" fill="#d6eecd" stroke="#5f705a" stroke-width="0.8"/>
<text x="95.40" y="585.23" font-size="6.0" font-family="'Liberation Serif', 'Times New Roman', serif" fill="#2a4328" text-anchor="middle" textLength="17.60" lengthAdjust="spacingAndGlyphs" stroke="#2a4328" stroke-width="0.12">TrkA/B</text>
<rect x="85.50" y="600.30" width="19.80" height="6.70" fill="#d6eecd" stroke="#5f705a" stroke-width="0.8"/>
<text x="95.40" y="605.63" font-size="6.0" font-family="'Liberation Serif', 'Times New Roman', serif" fill="#2a4328" text-anchor="middle" stroke="#2a4328" stroke-width="0.12">EGFR</text>
<rect x="85.50" y="610.00" width="19.80" height="6.50" fill="#d6eecd" stroke="#5f705a" stroke-width="0.8"/>
<text x="95.40" y="615.23" font-size="6.0" font-family="'Liberation Serif', 'Times New Roman', serif" fill="#2a4328" text-anchor="middle" stroke="#2a4328" stroke-width="0.12">FGFR</text>
<rect x="85.50" y="619.00" width="19.80" height="6.50" fill="#d6eecd" stroke="#5f705a" stroke-width="0.8"/>
<text x="95.40" y="624.23" font-size="6.0" font-family="'Liberation Serif', 'Times New Roman', serif" fill="#2a4328" text-anchor="middle" textLength="17.60" lengthAdjust="spacingAndGlyphs" stroke="#2a4328" stroke-width="0.12">PDGFR</text>
<rect x="85.50" y="754.40" width="19.80" height="6.90" fill="#d6eecd" stroke="#5f705a" stroke-width="0.8"/>
<text x="95.40" y="759.83" font-size="6.0" font-family="'Liberation Serif', 'Times New Roman', serif" fill="#2a4328" text-anchor="middle" stroke="#2a4328" stroke-width="0.12">TNFR</text>
<rect x="85.50" y="764.70" width="19.80" height="6.40" fill="#d6eecd" stroke="#5f705a" stroke-width="0.8"/>
<text x="95.40" y="769.88" font-size="6.0" font-family="'Liberation Serif', 'Times New Roman', serif" fill="#2a4328" text-anchor="middle" stroke="#2a4328" stroke-width="0.12">IL1R</text>
<rect x="85.50" y="776.80" width="19.80" height="6.60" fill="#d6eecd" stroke="#5f705a" stroke-width="0.8"/>
<text x="95.40" y="782.08" font-size="6.0" font-family="'Liberation Serif', 'Times New Roman', serif" fill="#2a4328" text-anchor="middle" stroke="#2a4328" stroke-width="0.12">FAS</text>
<rect x="85.50" y="786.50" width="19.80" height="6.90" fill="#d6eecd" stroke="#5f705a" stroke-width="0.8"/>
<text x="95.40" y="791.93" font-size="6.0" font-family="'Liberation Serif', 'Times New Roman', serif" fill="#2a4328" text-anchor="middle" textLength="17.60" lengthAdjust="spacingAndGlyphs" stroke="#2a4328" stroke-width="0.12">TGFBR</text>
<rect x="85.50" y="799.40" width="19.80" height="6.90" fill="#d6eecd" stroke="#5f705a" stroke-width="0.8"/>
<text x="95.40" y="804.83" font-size="6.0" font-family="'Liberation Serif', 'Times New Roman', serif" fill="#2a4328" text-anchor="middle" stroke="#2a4328" stroke-width="0.12">CD14</text>
<rect x="113.00" y="610.00" width="20.00" height="6.50" fill="#d6eecd" stroke="#5f705a" stroke-width="0.8"/>
<text x="123.00" y="615.23" font-size="6.0" font-family="'Liberation Serif', 'Times New Roman', serif" fill="#2a4328" text-anchor="middle" stroke="#2a4328" stroke-width="0.12">GRB2</text>
<rect x="104.00" y="632.70" width="20.60" height="6.90" fill="#d6eecd" stroke="#5f705a" stroke-width="0.8"/>
<text x="114.30" y="638.13" font-size="6.0" font-family="'Liberation Serif', 'Times New Roman', serif" fill="#2a4328" text-anchor="middle" stroke="#2a4328" stroke-width="0.12">G12</text>
<rect x="140.50" y="609.50" width="20.10" height="7.00" fill="#d6eecd" stroke="#5f705a" stroke-width="0.8"/>
<text x="150.55" y="614.98" font-size="6.0" font-family="'Liberation Serif', 'Times New Roman', serif" fill="#2a4328" text-anchor="middle" stroke="#2a4328" stroke-width="0.12">SOS</text>
<rect x="168.00" y="609.50" width="20.00" height="7.00" fill="#d6eecd" stroke="#5f705a" stroke-width="0.8"/>
<text x="178.00" y="614.98" font-size="6.0" font-family="'Liberation Serif', 'Times New Roman', serif" fill="#2a4328" text-anchor="middle" stroke="#2a4328" stroke-width="0.12">Ras</text>
<rect x="161.00" y="575.90" width="19.90" height="6.80" fill="#d6eecd" stroke="#5f705a" stroke-width="0.8"/>
<text x="170.95" y="581.28" font-size="6.0" font-family="'Liberation Serif', 'Times New Roman', serif" fill="#2a4328" text-anchor="middle" textLength="17.70" lengthAdjust="spacingAndGlyphs" stroke="#2a4328" stroke-width="0.12">RasGRF</text>
<rect x="161.00" y="586.20" width="19.90" height="7.20" fill="#d6eecd" stroke="#5f705a" stroke-width="0.8"/>
<text x="170.95" y="591.78" font-size="6.0" font-family="'Liberation Serif', 'Times New Roman', serif" fill="#2a4328" text-anchor="middle" textLength="17.70" lengthAdjust="spacingAndGlyphs" stroke="#2a4328" stroke-width="0.12">RasGRF</text>
<rect x="184.60" y="573.80" width="20.50" height="6.80" fill="#d6eecd" stroke="#5f705a" stroke-width="0.8"/>
<text x="194.85" y="579.18" font-size="6.0" font-family="'Liberation Serif', 'Times New Roman', serif" fill="#2a4328" text-anchor="middle" textLength="18.30" lengthAdjust="spacingAndGlyphs" stroke="#2a4328" stroke-width="0.12">CNrasGEF</text>
<rect x="202.00" y="585.70" width="20.60" height="7.20" fill="#d6eecd" stroke="#5f705a" stroke-width="0.8"/>
<text x="212.30" y="591.28" font-size="6.0" font-family="'Liberation Serif', 'Times New Roman', serif" fill="#2a4328" text-anchor="middle" stroke="#2a4328" stroke-width="0.12">PKC</text>
<rect x="220.10" y="547.30" width="18.90" height="7.60" fill="#d6eecd" stroke="#5f705a" stroke-width="0.8"/>
<text x="229.55" y="553.08" font-size="6.0" font-family="'Liberation Serif', 'Times New Roman', serif" fill="#2a4328" text-anchor="middle" stroke="#2a4328" stroke-width="0.12">PKA</text>
<rect x="220.10" y="568.70" width="18.90" height="7.20" fill="#d6eecd" stroke="#5f705a" stroke-width="0.8"/>
<text x="229.55" y="574.28" font-size="6.0" font-family="'Liberation Serif', 'Times New Roman', serif" fill="#2a4328" text-anchor="middle" stroke="#2a4328" stroke-width="0.12">Rap1</text>
<rect x="243.30" y="599.30" width="20.50" height="6.40" fill="#d6eecd" stroke="#5f705a" stroke-width="0.8"/>
<text x="253.55" y="604.48" font-size="6.0" font-family="'Liberation Serif', 'Times New Roman', serif" fill="#2a4328" text-anchor="middle" stroke="#2a4328" stroke-width="0.12">B-Raf</text>
<rect x="243.30" y="610.00" width="20.50" height="6.20" fill="#d6eecd" stroke="#5f705a" stroke-width="0.8"/>
<text x="253.55" y="615.08" font-size="6.0" font-family="'Liberation Serif', 'Times New Roman', serif" fill="#2a4328" text-anchor="middle" stroke="#2a4328" stroke-width="0.12">Raf1</text>
<rect x="243.30" y="619.80" width="20.50" height="6.40" fill="#d6eecd" stroke="#5f705a" stroke-width="0.8"/>
<text x="253.55" y="624.98" font-size="6.0" font-family="'Liberation Serif', 'Times New Roman', serif" fill="#2a4328" text-anchor="middle" stroke="#2a4328" stroke-width="0.12">Mos</text>
<rect x="192.00" y="625.70" width="19.20" height="6.70" fill="#d6eecd" stroke="#5f705a" stroke-width="0.8"/>
<text x="201.60" y="631.03" font-size="6.0" font-family="'Liberation Serif', 'Times New Roman', serif" fill="#2a4328" text-anchor="middle" stroke="#2a4328" stroke-width="0.12">NF1</text>
<rect x="192.00" y="634.70" width="19.20" height="6.90" fill="#d6eecd" stroke="#5f705a" stroke-width="0.8"/>
<text x="201.60" y="640.13" font-size="6.0" font-family="'Liberation Serif', 'Times New Roman', serif" fill="#2a4328" text-anchor="middle" textLength="17.00" lengthAdjust="spacingAndGlyphs" stroke="#2a4328" stroke-width="0.12">RasGAP</text>
<rect x="145.20" y="632.70" width="20.50" height="6.30" fill="#d6eecd" stroke="#5f705a" stroke-width="0.8"/>
<text x="155.45" y="637.83" font-size="6.0" font-family="'Liberation Serif', 'Times New Roman', serif" fill="#2a4328" text-anchor="middle" stroke="#2a4328" stroke-width="0.12">Gap1m</text>
<rect x="333.00" y="526.00" width="20.80" height="6.40" fill="#d6eecd" stroke="#5f705a" stroke-width="0.8"/>
<text x="343.40" y="531.18" font-size="6.0" font-family="'Liberation Serif', 'Times New Roman', serif" fill="#2a4328" text-anchor="middle" stroke="#2a4328" stroke-width="0.12">NIK</text>
<rect x="333.00" y="535.70" width="20.80" height="6.20" fill="#d6eecd" stroke="#5f705a" stroke-width="0.8"/>
<text x="343.40" y="540.78" font-size="6.0" font-family="'Liberation Serif', 'Times New Roman', serif" fill="#2a4328" text-anchor="middle" stroke="#2a4328" stroke-width="0.12">IKK</text>
<rect x="389.40" y="530.90" width="21.00" height="6.30" fill="#d6eecd" stroke="#5f705a" stroke-width="0.8"/>
<text x="399.90" y="536.03" font-size="6.0" font-family="'Liberation Serif', 'Times New Roman', serif" fill="#2a4328" text-anchor="middle" stroke="#2a4328" stroke-width="0.12">NFkB</text>
<rect x="361.20" y="549.60" width="20.10" height="6.70" fill="#d6eecd" stroke="#5f705a" stroke-width="0.8"/>
<text x="371.25" y="554.93" font-size="6.0" font-family="'Liberation Serif', 'Times New Roman', serif" fill="#2a4328" text-anchor="middle" stroke="#2a4328" stroke-width="0.12">Tau</text>
<rect x="361.20" y="558.80" width="20.10" height="6.50" fill="#d6eecd" stroke="#5f705a" stroke-width="0.8"/>
<text x="371.25" y="564.03" font-size="6.0" font-family="'Liberation Serif', 'Times New Roman', serif" fill="#2a4328" text-anchor="middle" textLength="17.90" lengthAdjust="spacingAndGlyphs" stroke="#2a4328" stroke-width="0.12">STMN1</text>
<rect x="361.20" y="568.30" width="20.10" height="7.20" fill="#d6eecd" stroke="#5f705a" stroke-width="0.8"/>
<text x="371.25" y="573.88" font-size="6.0" font-family="'Liberation Serif', 'Times New Roman', serif" fill="#2a4328" text-anchor="middle" stroke="#2a4328" stroke-width="0.12">cPLA2</text>
<rect x="361.50" y="587.50" width="20.00" height="6.90" fill="#d6eecd" stroke="#5f705a" stroke-width="0.8"/>
<text x="371.50" y="592.93" font-size="6.0" font-family="'Liberation Serif', 'Times New Roman', serif" fill="#2a4328" text-anchor="middle" textLength="17.80" lengthAdjust="spacingAndGlyphs" stroke="#2a4328" stroke-width="0.12">MNK1/2</text>
<rect x="361.50" y="597.00" width="20.00" height="6.90" fill="#d6eecd" stroke="#5f705a" stroke-width="0.8"/>
<text x="371.50" y="602.43" font-size="6.0" font-family="'Liberation Serif', 'Times New Roman', serif" fill="#2a4328" text-anchor="middle" stroke="#2a4328" stroke-width="0.12">RSK2</text>
<rect x="389.70" y="592.60" width="19.80" height="6.40" fill="#d6eecd" stroke="#5f705a" stroke-width="0.8"/>
<text x="399.60" y="597.78" font-size="6.0" font-family="'Liberation Serif', 'Times New Roman', serif" fill="#2a4328" text-anchor="middle" stroke="#2a4328" stroke-width="0.12">CREB</text>
<rect x="389.70" y="605.20" width="19.80" height="6.40" fill="#d6eecd" stroke="#5f705a" stroke-width="0.8"/>
<text x="399.60" y="610.38" font-size="6.0" font-family="'Liberation Serif', 'Times New Roman', serif" fill="#2a4328" text-anchor="middle" stroke="#2a4328" stroke-width="0.12">Elk-1</text>
<rect x="389.70" y="615.00" width="19.80" height="6.40" fill="#d6eecd" stroke="#5f705a" stroke-width="0.8"/>
<text x="399.60" y="620.18" font-size="6.0" font-family="'Liberation Serif', 'Times New Roman', serif" fill="#2a4328" text-anchor="middle" stroke="#2a4328" stroke-width="0.12">Sap1a</text>
<rect x="389.70" y="624.00" width="19.80" height="6.40" fill="#d6eecd" stroke="#5f705a" stroke-width="0.8"/>
<text x="399.60" y="629.18" font-size="6.0" font-family="'Liberation Serif', 'Times New Roman', serif" fill="#2a4328" text-anchor="middle" stroke="#2a4328" stroke-width="0.12">c-Myc</text>
<rect x="417.30" y="609.40" width="20.50" height="6.90" fill="#d6eecd" stroke="#5f705a" stroke-width="0.8"/>
<text x="427.55" y="614.83" font-size="6.0" font-family="'Liberation Serif', 'Times New Roman', serif" fill="#2a4328" text-anchor="middle" stroke="#2a4328" stroke-width="0.12">SRF</text>
<rect x="463.00" y="609.40" width="19.50" height="7.20" fill="#d6eecd" stroke="#5f705a" stroke-width="0.8"/>
<text x="472.75" y="614.98" font-size="6.0" font-family="'Liberation Serif', 'Times New Roman', serif" fill="#2a4328" text-anchor="middle" stroke="#2a4328" stroke-width="0.12">c-fos</text>
<rect x="285.20" y="604.70" width="20.50" height="6.40" fill="#d6eecd" stroke="#5f705a" stroke-width="0.8"/>
<text x="295.45" y="609.88" font-size="6.0" font-family="'Liberation Serif', 'Times New Roman', serif" fill="#2a4328" text-anchor="middle" stroke="#2a4328" stroke-width="0.12">MEK1</text>
<rect x="285.20" y="614.20" width="20.50" height="6.40" fill="#d6eecd" stroke="#5f705a" stroke-width="0.8"/>
<text x="295.45" y="619.38" font-size="6.0" font-family="'Liberation Serif', 'Times New Roman', serif" fill="#2a4328" text-anchor="middle" stroke="#2a4328" stroke-width="0.12">MEK2</text>
<rect x="312.70" y="598.30" width="20.00" height="6.90" fill="#d6eecd" stroke="#5f705a" stroke-width="0.8"/>
<text x="322.70" y="603.73" font-size="6.0" font-family="'Liberation Serif', 'Times New Roman', serif" fill="#2a4328" text-anchor="middle" stroke="#2a4328" stroke-width="0.12">MP1</text>
<rect x="323.70" y="609.00" width="21.10" height="7.20" fill="#d6eecd" stroke="#5f705a" stroke-width="0.8"/>
<text x="334.25" y="614.58" font-size="6.0" font-family="'Liberation Serif', 'Times New Roman', serif" fill="#2a4328" text-anchor="middle" stroke="#2a4328" stroke-width="0.12">ERK</text>
<rect x="315.20" y="632.40" width="18.00" height="7.00" fill="#d6eecd" stroke="#5f705a" stroke-width="0.8"/>
<text x="324.20" y="637.88" font-size="6.0" font-family="'Liberation Serif', 'Times New Roman', serif" fill="#2a4328" text-anchor="middle" stroke="#2a4328" stroke-width="0.12">PTP</text>
<rect x="335.00" y="632.40" width="20.00" height="7.00" fill="#d6eecd" stroke="#5f705a" stroke-width="0.8"/>
<text x="345.00" y="637.88" font-size="6.0" font-family="'Liberation Serif', 'Times New Roman', serif" fill="#2a4328" text-anchor="middle" stroke="#2a4328" stroke-width="0.12">MKP</text>
<rect x="361.10" y="644.40" width="18.30" height="7.10" fill="#d6eecd" stroke="#5f705a" stroke-width="0.8"/>
<text x="370.25" y="649.93" font-size="6.0" font-family="'Liberation Serif', 'Times New Roman', serif" fill="#2a4328" text-anchor="middle" textLength="16.10" lengthAdjust="spacingAndGlyphs" stroke="#2a4328" stroke-width="0.12">PPP3C</text>
<rect x="336.30" y="653.90" width="20.60" height="6.90" fill="#fff" stroke="#5f705a" stroke-width="0.8"/>
<text x="346.60" y="659.33" font-size="6.0" font-family="'Liberation Serif', 'Times New Roman', serif" fill="#2a4328" text-anchor="middle" stroke="#2a4328" stroke-width="0.12">GSTs</text>
<rect x="336.30" y="664.10" width="20.60" height="6.40" fill="#d6eecd" stroke="#5f705a" stroke-width="0.8"/>
<text x="346.60" y="669.28" font-size="6.0" font-family="'Liberation Serif', 'Times New Roman', serif" fill="#2a4328" text-anchor="middle" stroke="#2a4328" stroke-width="0.12">HSP72</text>
<rect x="336.30" y="673.10" width="20.60" height="6.40" fill="#d6eecd" stroke="#5f705a" stroke-width="0.8"/>
<text x="346.60" y="678.28" font-size="6.0" font-family="'Liberation Serif', 'Times New Roman', serif" fill="#2a4328" text-anchor="middle" stroke="#2a4328" stroke-width="0.12">Evi1</text>
<rect x="288.80" y="661.60" width="20.00" height="6.90" fill="#d6eecd" stroke="#5f705a" stroke-width="0.8"/>
<text x="298.80" y="667.03" font-size="6.0" font-family="'Liberation Serif', 'Times New Roman', serif" fill="#2a4328" text-anchor="middle" stroke="#2a4328" stroke-width="0.12">FLNA</text>
<rect x="312.00" y="661.60" width="20.00" height="6.90" fill="#d6eecd" stroke="#5f705a" stroke-width="0.8"/>
<text x="322.00" y="667.03" font-size="6.0" font-family="'Liberation Serif', 'Times New Roman', serif" fill="#2a4328" text-anchor="middle" stroke="#2a4328" stroke-width="0.12">JIP3</text>
<rect x="206.50" y="672.00" width="19.60" height="7.30" fill="#d6eecd" stroke="#5f705a" stroke-width="0.8"/>
<text x="216.30" y="677.63" font-size="6.0" font-family="'Liberation Serif', 'Times New Roman', serif" fill="#2a4328" text-anchor="middle" stroke="#2a4328" stroke-width="0.12">MLK3</text>
<rect x="206.50" y="686.80" width="19.60" height="7.00" fill="#d6eecd" stroke="#5f705a" stroke-width="0.8"/>
<text x="216.30" y="692.28" font-size="6.0" font-family="'Liberation Serif', 'Times New Roman', serif" fill="#2a4328" text-anchor="middle" stroke="#2a4328" stroke-width="0.12">HGK</text>
<rect x="206.50" y="701.00" width="19.60" height="7.20" fill="#d6eecd" stroke="#5f705a" stroke-width="0.8"/>
<text x="216.30" y="706.58" font-size="6.0" font-family="'Liberation Serif', 'Times New Roman', serif" fill="#2a4328" text-anchor="middle" stroke="#2a4328" stroke-width="0.12">HPK1</text>
<rect x="206.50" y="715.00" width="19.60" height="7.20" fill="#d6eecd" stroke="#5f705a" stroke-width="0.8"/>
<text x="216.30" y="720.58" font-size="6.0" font-family="'Liberation Serif', 'Times New Roman', serif" fill="#2a4328" text-anchor="middle" textLength="17.40" lengthAdjust="spacingAndGlyphs" stroke="#2a4328" stroke-width="0.12">PAK1/2</text>
<rect x="167.00" y="715.20" width="21.30" height="7.20" fill="#d6eecd" stroke="#5f705a" stroke-width="0.8"/>
<text x="177.65" y="720.78" font-size="6.0" font-family="'Liberation Serif', 'Times New Roman', serif" fill="#2a4328" text-anchor="middle" textLength="19.10" lengthAdjust="spacingAndGlyphs" stroke="#2a4328" stroke-width="0.12">Cdc42/Rac</text>
<rect x="160.60" y="741.70" width="20.80" height="6.90" fill="#d6eecd" stroke="#5f705a" stroke-width="0.8"/>
<text x="171.00" y="747.13" font-size="6.0" font-family="'Liberation Serif', 'Times New Roman', serif" fill="#2a4328" text-anchor="middle" stroke="#2a4328" stroke-width="0.12">CASP</text>
<rect x="205.60" y="741.70" width="20.50" height="6.90" fill="#d6eecd" stroke="#5f705a" stroke-width="0.8"/>
<text x="215.85" y="747.13" font-size="6.0" font-family="'Liberation Serif', 'Times New Roman', serif" fill="#2a4328" text-anchor="middle" textLength="18.30" lengthAdjust="spacingAndGlyphs" stroke="#2a4328" stroke-width="0.12">MST1/2</text>
<rect x="160.90" y="759.80" width="20.50" height="7.20" fill="#d6eecd" stroke="#5f705a" stroke-width="0.8"/>
<text x="171.15" y="765.38" font-size="6.0" font-family="'Liberation Serif', 'Times New Roman', serif" fill="#2a4328" text-anchor="middle" textLength="18.30" lengthAdjust="spacingAndGlyphs" stroke="#2a4328" stroke-width="0.12">TRAF2</text>
<rect x="205.30" y="759.80" width="20.60" height="7.20" fill="#d6eecd" stroke="#5f705a" stroke-width="0.8"/>
<text x="215.60" y="765.38" font-size="6.0" font-family="'Liberation Serif', 'Times New Roman', serif" fill="#2a4328" text-anchor="middle" stroke="#2a4328" stroke-width="0.12">GCK</text>
<rect x="167.30" y="781.10" width="20.80" height="7.20" fill="#d6eecd" stroke="#5f705a" stroke-width="0.8"/>
<text x="177.70" y="786.68" font-size="6.0" font-family="'Liberation Serif', 'Times New Roman', serif" fill="#2a4328" text-anchor="middle" stroke="#2a4328" stroke-width="0.12">DAXX</text>
<rect x="176.30" y="794.70" width="20.50" height="6.90" fill="#d6eecd" stroke="#5f705a" stroke-width="0.8"/>
<text x="186.55" y="800.13" font-size="6.0" font-family="'Liberation Serif', 'Times New Roman', serif" fill="#2a4328" text-anchor="middle" stroke="#2a4328" stroke-width="0.12">TAB1</text>
<rect x="176.30" y="805.00" width="20.50" height="7.00" fill="#d6eecd" stroke="#5f705a" stroke-width="0.8"/>
<text x="186.55" y="810.48" font-size="6.0" font-family="'Liberation Serif', 'Times New Roman', serif" fill="#2a4328" text-anchor="middle" stroke="#2a4328" stroke-width="0.12">TAB2</text>
<rect x="176.30" y="814.50" width="20.50" height="7.20" fill="#d6eecd" stroke="#5f705a" stroke-width="0.8"/>
<text x="186.55" y="820.08" font-size="6.0" font-family="'Liberation Serif', 'Times New Roman', serif" fill="#2a4328" text-anchor="middle" stroke="#2a4328" stroke-width="0.12">ECSIT</text>
<rect x="147.50" y="810.60" width="20.50" height="7.00" fill="#d6eecd" stroke="#5f705a" stroke-width="0.8"/>
<text x="157.75" y="816.08" font-size="6.0" font-family="'Liberation Serif', 'Times New Roman', serif" fill="#2a4328" text-anchor="middle" textLength="18.30" lengthAdjust="spacingAndGlyphs" stroke="#2a4328" stroke-width="0.12">TRAF6</text>
<rect x="147.50" y="824.30" width="20.50" height="6.90" fill="#d6eecd" stroke="#5f705a" stroke-width="0.8"/>
<text x="157.75" y="829.73" font-size="6.0" font-family="'Liberation Serif', 'Times New Roman', serif" fill="#2a4328" text-anchor="middle" textLength="18.30" lengthAdjust="spacingAndGlyphs" stroke="#2a4328" stroke-width="0.12">GADD45</text>
<rect x="243.00" y="671.50" width="20.40" height="7.00" fill="#d6eecd" stroke="#5f705a" stroke-width="0.8"/>
<text x="253.20" y="676.98" font-size="6.0" font-family="'Liberation Serif', 'Times New Roman', serif" fill="#2a4328" text-anchor="middle" textLength="18.20" lengthAdjust="spacingAndGlyphs" stroke="#2a4328" stroke-width="0.12">TAO1/2</text>
<rect x="243.00" y="681.60" width="20.40" height="7.00" fill="#d6eecd" stroke="#5f705a" stroke-width="0.8"/>
<text x="253.20" y="687.08" font-size="6.0" font-family="'Liberation Serif', 'Times New Roman', serif" fill="#2a4328" text-anchor="middle" textLength="18.20" lengthAdjust="spacingAndGlyphs" stroke="#2a4328" stroke-width="0.12">MEKK1</text>
<rect x="243.00" y="701.20" width="20.40" height="6.80" fill="#d6eecd" stroke="#5f705a" stroke-width="0.8"/>
<text x="253.20" y="706.58" font-size="6.0" font-family="'Liberation Serif', 'Times New Roman', serif" fill="#2a4328" text-anchor="middle" stroke="#2a4328" stroke-width="0.12">MLK3</text>
<rect x="243.00" y="715.30" width="20.40" height="6.90" fill="#d6eecd" stroke="#5f705a" stroke-width="0.8"/>
<text x="253.20" y="720.73" font-size="6.0" font-family="'Liberation Serif', 'Times New Roman', serif" fill="#2a4328" text-anchor="middle" textLength="18.20" lengthAdjust="spacingAndGlyphs" stroke="#2a4328" stroke-width="0.12">MEKK2/3</text>
<rect x="243.00" y="731.90" width="20.40" height="6.40" fill="#d6eecd" stroke="#5f705a" stroke-width="0.8"/>
<text x="253.20" y="737.08" font-size="6.0" font-family="'Liberation Serif', 'Times New Roman', serif" fill="#2a4328" text-anchor="middle" stroke="#2a4328" stroke-width="0.12">LZK</text>
<rect x="243.00" y="740.50" width="20.40" height="6.70" fill="#d6eecd" stroke="#5f705a" stroke-width="0.8"/>
<text x="253.20" y="745.83" font-size="6.0" font-family="'Liberation Serif', 'Times New Roman', serif" fill="#2a4328" text-anchor="middle" stroke="#2a4328" stroke-width="0.12">MUK</text>
<rect x="243.00" y="749.80" width="20.40" height="6.40" fill="#d6eecd" stroke="#5f705a" stroke-width="0.8"/>
<text x="253.20" y="754.98" font-size="6.0" font-family="'Liberation Serif', 'Times New Roman', serif" fill="#2a4328" text-anchor="middle" stroke="#2a4328" stroke-width="0.12">MLTK</text>
<rect x="243.40" y="768.80" width="20.00" height="6.60" fill="#d6eecd" stroke="#5f705a" stroke-width="0.8"/>
<text x="253.40" y="774.08" font-size="6.0" font-family="'Liberation Serif', 'Times New Roman', serif" fill="#2a4328" text-anchor="middle" stroke="#2a4328" stroke-width="0.12">ASK2</text>
<rect x="243.40" y="782.40" width="20.00" height="6.40" fill="#fff" stroke="#5f705a" stroke-width="0.8"/>
<text x="253.40" y="787.58" font-size="6.0" font-family="'Liberation Serif', 'Times New Roman', serif" fill="#2a4328" text-anchor="middle" stroke="#2a4328" stroke-width="0.12">ASK1</text>
<rect x="243.40" y="795.20" width="20.00" height="6.40" fill="#d6eecd" stroke="#5f705a" stroke-width="0.8"/>
<text x="253.40" y="800.38" font-size="6.0" font-family="'Liberation Serif', 'Times New Roman', serif" fill="#2a4328" text-anchor="middle" stroke="#2a4328" stroke-width="0.12">TAK1</text>
<rect x="251.80" y="811.40" width="18.80" height="6.90" fill="#d6eecd" stroke="#5f705a" stroke-width="0.8"/>
<text x="261.20" y="816.83" font-size="6.0" font-family="'Liberation Serif', 'Times New Roman', serif" fill="#2a4328" text-anchor="middle" textLength="16.60" lengthAdjust="spacingAndGlyphs" stroke="#2a4328" stroke-width="0.12">PP2CB</text>
<rect x="243.50" y="824.40" width="19.80" height="6.60" fill="#d6eecd" stroke="#5f705a" stroke-width="0.8"/>
<text x="253.40" y="829.68" font-size="6.0" font-family="'Liberation Serif', 'Times New Roman', serif" fill="#2a4328" text-anchor="middle" textLength="17.60" lengthAdjust="spacingAndGlyphs" stroke="#2a4328" stroke-width="0.12">MEKK4</text>
<rect x="243.50" y="836.90" width="19.80" height="6.40" fill="#d6eecd" stroke="#5f705a" stroke-width="0.8"/>
<text x="253.40" y="842.08" font-size="6.0" font-family="'Liberation Serif', 'Times New Roman', serif" fill="#2a4328" text-anchor="middle" textLength="17.60" lengthAdjust="spacingAndGlyphs" stroke="#2a4328" stroke-width="0.12">TAO1/2</text>
<rect x="270.60" y="743.00" width="19.80" height="6.80" fill="#d6eecd" stroke="#5f705a" stroke-width="0.8"/>
<text x="280.50" y="748.38" font-size="6.0" font-family="'Liberation Serif', 'Times New Roman', serif" fill="#2a4328" text-anchor="middle" stroke="#2a4328" stroke-width="0.12">AKT</text>
<rect x="283.00" y="671.80" width="19.00" height="7.20" fill="#d6eecd" stroke="#5f705a" stroke-width="0.8"/>
<text x="292.50" y="677.38" font-size="6.0" font-family="'Liberation Serif', 'Times New Roman', serif" fill="#2a4328" text-anchor="middle" stroke="#2a4328" stroke-width="0.12">ARRB</text>
<rect x="304.20" y="671.80" width="19.30" height="6.80" fill="#d6eecd" stroke="#5f705a" stroke-width="0.8"/>
<text x="313.85" y="677.18" font-size="6.0" font-family="'Liberation Serif', 'Times New Roman', serif" fill="#2a4328" text-anchor="middle" stroke="#2a4328" stroke-width="0.12">CrkII</text>
<rect x="285.50" y="686.80" width="20.80" height="7.00" fill="#d6eecd" stroke="#5f705a" stroke-width="0.8"/>
<text x="295.90" y="692.28" font-size="6.0" font-family="'Liberation Serif', 'Times New Roman', serif" fill="#2a4328" text-anchor="middle" stroke="#2a4328" stroke-width="0.12">MKK4</text>
<rect x="285.50" y="701.20" width="20.80" height="7.10" fill="#d6eecd" stroke="#5f705a" stroke-width="0.8"/>
<text x="295.90" y="706.73" font-size="6.0" font-family="'Liberation Serif', 'Times New Roman', serif" fill="#2a4328" text-anchor="middle" stroke="#2a4328" stroke-width="0.12">MKK7</text>
<rect x="323.50" y="693.70" width="20.50" height="6.90" fill="#d6eecd" stroke="#5f705a" stroke-width="0.8"/>
<text x="333.75" y="699.13" font-size="6.0" font-family="'Liberation Serif', 'Times New Roman', serif" fill="#2a4328" text-anchor="middle" stroke="#2a4328" stroke-width="0.12">JNK</text>
<rect x="306.30" y="706.00" width="20.50" height="7.00" fill="#d6eecd" stroke="#5f705a" stroke-width="0.8"/>
<text x="316.55" y="711.48" font-size="6.0" font-family="'Liberation Serif', 'Times New Roman', serif" fill="#2a4328" text-anchor="middle" stroke="#2a4328" stroke-width="0.12">JIP1/2</text>
<rect x="289.30" y="732.70" width="20.10" height="7.20" fill="#d6eecd" stroke="#5f705a" stroke-width="0.8"/>
<text x="299.35" y="738.28" font-size="6.0" font-family="'Liberation Serif', 'Times New Roman', serif" fill="#2a4328" text-anchor="middle" textLength="17.90" lengthAdjust="spacingAndGlyphs" stroke="#2a4328" stroke-width="0.12">PP2CA</text>
<rect x="336.30" y="732.70" width="18.00" height="7.20" fill="#d6eecd" stroke="#5f705a" stroke-width="0.8"/>
<text x="345.30" y="738.28" font-size="6.0" font-family="'Liberation Serif', 'Times New Roman', serif" fill="#2a4328" text-anchor="middle" stroke="#2a4328" stroke-width="0.12">MKP</text>
<rect x="312.20" y="743.00" width="23.10" height="6.80" fill="#d6eecd" stroke="#5f705a" stroke-width="0.8"/>
<text x="323.75" y="748.38" font-size="6.0" font-family="'Liberation Serif', 'Times New Roman', serif" fill="#2a4328" text-anchor="middle" stroke="#2a4328" stroke-width="0.12">PTP</text>
<rect x="285.20" y="775.40" width="20.60" height="7.00" fill="#d6eecd" stroke="#5f705a" stroke-width="0.8"/>
<text x="295.50" y="780.88" font-size="6.0" font-family="'Liberation Serif', 'Times New Roman', serif" fill="#2a4328" text-anchor="middle" stroke="#2a4328" stroke-width="0.12">MKK3</text>
<rect x="285.20" y="788.80" width="20.60" height="6.90" fill="#d6eecd" stroke="#5f705a" stroke-width="0.8"/>
<text x="295.50" y="794.23" font-size="6.0" font-family="'Liberation Serif', 'Times New Roman', serif" fill="#2a4328" text-anchor="middle" stroke="#2a4328" stroke-width="0.12">MKK6</text>
<rect x="276.80" y="804.20" width="20.50" height="7.20" fill="#d6eecd" stroke="#5f705a" stroke-width="0.8"/>
<text x="287.05" y="809.78" font-size="6.0" font-family="'Liberation Serif', 'Times New Roman', serif" fill="#2a4328" text-anchor="middle" stroke="#2a4328" stroke-width="0.12">PP5</text>
<rect x="323.00" y="781.60" width="20.50" height="7.20" fill="#d6eecd" stroke="#5f705a" stroke-width="0.8"/>
<text x="333.25" y="787.18" font-size="6.0" font-family="'Liberation Serif', 'Times New Roman', serif" fill="#2a4328" text-anchor="middle" stroke="#2a4328" stroke-width="0.12">p38</text>
<rect x="388.70" y="668.60" width="21.00" height="6.40" fill="#d6eecd" stroke="#5f705a" stroke-width="0.8"/>
<text x="399.20" y="673.78" font-size="6.0" font-family="'Liberation Serif', 'Times New Roman', serif" fill="#2a4328" text-anchor="middle" textLength="18.80" lengthAdjust="spacingAndGlyphs" stroke="#2a4328" stroke-width="0.12">NFAT-2</text>
<rect x="388.70" y="678.40" width="21.00" height="6.30" fill="#d6eecd" stroke="#5f705a" stroke-width="0.8"/>
<text x="399.20" y="683.53" font-size="6.0" font-family="'Liberation Serif', 'Times New Roman', serif" fill="#2a4328" text-anchor="middle" textLength="18.80" lengthAdjust="spacingAndGlyphs" stroke="#2a4328" stroke-width="0.12">NFAT-4</text>
<rect x="388.70" y="689.00" width="21.00" height="6.90" fill="#d6eecd" stroke="#5f705a" stroke-width="0.8"/>
<text x="399.20" y="694.43" font-size="6.0" font-family="'Liberation Serif', 'Times New Roman', serif" fill="#2a4328" text-anchor="middle" stroke="#2a4328" stroke-width="0.12">c-JUN</text>
<rect x="388.70" y="698.70" width="21.00" height="6.60" fill="#d6eecd" stroke="#5f705a" stroke-width="0.8"/>
<text x="399.20" y="703.98" font-size="6.0" font-family="'Liberation Serif', 'Times New Roman', serif" fill="#2a4328" text-anchor="middle" stroke="#2a4328" stroke-width="0.12">JunD</text>
<rect x="388.70" y="723.80" width="21.00" height="7.00" fill="#d6eecd" stroke="#5f705a" stroke-width="0.8"/>
<text x="399.20" y="729.28" font-size="6.0" font-family="'Liberation Serif', 'Times New Roman', serif" fill="#2a4328" text-anchor="middle" stroke="#2a4328" stroke-width="0.12">ATF-2</text>
<rect x="388.70" y="733.60" width="21.00" height="6.60" fill="#d6eecd" stroke="#5f705a" stroke-width="0.8"/>
<text x="399.20" y="738.88" font-size="6.0" font-family="'Liberation Serif', 'Times New Roman', serif" fill="#2a4328" text-anchor="middle" stroke="#2a4328" stroke-width="0.12">Elk-1</text>
<rect x="388.70" y="742.30" width="21.00" height="7.00" fill="#d6eecd" stroke="#5f705a" stroke-width="0.8"/>
<text x="399.20" y="747.78" font-size="6.0" font-family="'Liberation Serif', 'Times New Roman', serif" fill="#2a4328" text-anchor="middle" stroke="#2a4328" stroke-width="0.12">p53</text>
<rect x="389.90" y="767.30" width="20.00" height="6.50" fill="#d6eecd" stroke="#5f705a" stroke-width="0.8"/>
<text x="399.90" y="772.53" font-size="6.0" font-family="'Liberation Serif', 'Times New Roman', serif" fill="#2a4328" text-anchor="middle" stroke="#2a4328" stroke-width="0.12">Sap1a</text>
<rect x="389.90" y="776.90" width="20.00" height="6.50" fill="#d6eecd" stroke="#5f705a" stroke-width="0.8"/>
<text x="399.90" y="782.13" font-size="6.0" font-family="'Liberation Serif', 'Times New Roman', serif" fill="#2a4328" text-anchor="middle" textLength="17.80" lengthAdjust="spacingAndGlyphs" stroke="#2a4328" stroke-width="0.12">GADD153</text>
<rect x="389.90" y="786.40" width="20.00" height="6.90" fill="#d6eecd" stroke="#5f705a" stroke-width="0.8"/>
<text x="399.90" y="791.83" font-size="6.0" font-family="'Liberation Serif', 'Times New Roman', serif" fill="#2a4328" text-anchor="middle" stroke="#2a4328" stroke-width="0.12">MAX</text>
<rect x="389.90" y="796.00" width="20.00" height="7.00" fill="#d6eecd" stroke="#5f705a" stroke-width="0.8"/>
<text x="399.90" y="801.48" font-size="6.0" font-family="'Liberation Serif', 'Times New Roman', serif" fill="#2a4328" text-anchor="middle" textLength="17.80" lengthAdjust="spacingAndGlyphs" stroke="#2a4328" stroke-width="0.12">MEF2C</text>
<rect x="361.90" y="805.60" width="20.30" height="6.50" fill="#d6eecd" stroke="#5f705a" stroke-width="0.8"/>
<text x="372.05" y="810.83" font-size="6.0" font-family="'Liberation Serif', 'Times New Roman', serif" fill="#2a4328" text-anchor="middle" stroke="#2a4328" stroke-width="0.12">PRAK</text>
<rect x="361.90" y="815.20" width="20.30" height="6.90" fill="#d6eecd" stroke="#5f705a" stroke-width="0.8"/>
<text x="372.05" y="820.63" font-size="6.0" font-family="'Liberation Serif', 'Times New Roman', serif" fill="#2a4328" text-anchor="middle" textLength="18.10" lengthAdjust="spacingAndGlyphs" stroke="#2a4328" stroke-width="0.12">MAPKAPK</text>
<rect x="361.90" y="824.80" width="20.30" height="6.50" fill="#d6eecd" stroke="#5f705a" stroke-width="0.8"/>
<text x="372.05" y="830.03" font-size="6.0" font-family="'Liberation Serif', 'Times New Roman', serif" fill="#2a4328" text-anchor="middle" textLength="18.10" lengthAdjust="spacingAndGlyphs" stroke="#2a4328" stroke-width="0.12">MSK1/2</text>
<rect x="361.90" y="834.40" width="20.30" height="6.50" fill="#d6eecd" stroke="#5f705a" stroke-width="0.8"/>
<text x="372.05" y="839.63" font-size="6.0" font-family="'Liberation Serif', 'Times New Roman', serif" fill="#2a4328" text-anchor="middle" textLength="18.10" lengthAdjust="spacingAndGlyphs" stroke="#2a4328" stroke-width="0.12">Cdc25B</text>
<rect x="389.90" y="810.60" width="20.00" height="6.50" fill="#d6eecd" stroke="#5f705a" stroke-width="0.8"/>
<text x="399.90" y="815.83" font-size="6.0" font-family="'Liberation Serif', 'Times New Roman', serif" fill="#2a4328" text-anchor="middle" stroke="#2a4328" stroke-width="0.12">HSP27</text>
<rect x="389.90" y="824.80" width="20.00" height="6.50" fill="#d6eecd" stroke="#5f705a" stroke-width="0.8"/>
<text x="399.90" y="830.03" font-size="6.0" font-family="'Liberation Serif', 'Times New Roman', serif" fill="#2a4328" text-anchor="middle" stroke="#2a4328" stroke-width="0.12">CREB</text>
<rect x="333.60" y="847.00" width="18.60" height="7.10" fill="#d6eecd" stroke="#5f705a" stroke-width="0.8"/>
<text x="342.90" y="852.53" font-size="6.0" font-family="'Liberation Serif', 'Times New Roman', serif" fill="#2a4328" text-anchor="middle" stroke="#2a4328" stroke-width="0.12">NLK</text>
<rect x="285.00" y="874.40" width="20.60" height="7.10" fill="#d6eecd" stroke="#5f705a" stroke-width="0.8"/>
<text x="295.30" y="879.93" font-size="6.0" font-family="'Liberation Serif', 'Times New Roman', serif" fill="#2a4328" text-anchor="middle" stroke="#2a4328" stroke-width="0.12">MEK5</text>
<rect x="323.40" y="874.40" width="20.00" height="7.10" fill="#d6eecd" stroke="#5f705a" stroke-width="0.8"/>
<text x="333.40" y="879.93" font-size="6.0" font-family="'Liberation Serif', 'Times New Roman', serif" fill="#2a4328" text-anchor="middle" stroke="#2a4328" stroke-width="0.12">ERK5</text>
<rect x="389.20" y="874.40" width="20.00" height="7.10" fill="#d6eecd" stroke="#5f705a" stroke-width="0.8"/>
<text x="399.20" y="879.93" font-size="6.0" font-family="'Liberation Serif', 'Times New Roman', serif" fill="#2a4328" text-anchor="middle" stroke="#2a4328" stroke-width="0.12">Nur77</text>
<polygon points="48.00,578.00 49.47,581.18 52.95,581.59 50.38,583.97 51.06,587.41 48.00,585.70 44.94,587.41 45.62,583.97 43.05,581.59 46.53,581.18" fill="#e0542e"/>
<polygon points="48.00,587.05 49.47,590.23 52.95,590.64 50.38,593.02 51.06,596.46 48.00,594.75 44.94,596.46 45.62,593.02 43.05,590.64 46.53,590.23" fill="#e0542e"/>
<polygon points="48.00,608.05 49.47,611.23 52.95,611.64 50.38,614.02 51.06,617.46 48.00,615.75 44.94,617.46 45.62,614.02 43.05,611.64 46.53,611.23" fill="#e0542e"/>
<polygon points="48.00,752.65 49.47,755.83 52.95,756.24 50.38,758.62 51.06,762.06 48.00,760.35 44.94,762.06 45.62,758.62 43.05,756.24 46.53,755.83" fill="#e0542e"/>
<polygon points="48.00,762.70 49.47,765.88 52.95,766.29 50.38,768.67 51.06,772.11 48.00,770.40 44.94,772.11 45.62,768.67 43.05,766.29 46.53,765.88" fill="#e0542e"/>
<polygon points="48.00,784.75 49.47,787.93 52.95,788.34 50.38,790.72 51.06,794.16 48.00,792.45 44.94,794.16 45.62,790.72 43.05,788.34 46.53,787.93" fill="#e0542e"/>
<polygon points="84.70,608.05 86.17,611.23 89.65,611.64 87.08,614.02 87.76,617.46 84.70,615.75 81.64,617.46 82.32,614.02 79.75,611.64 83.23,611.23" fill="#e0542e"/>
<polygon points="84.70,762.70 86.17,765.88 89.65,766.29 87.08,768.67 87.76,772.11 84.70,770.40 81.64,772.11 82.32,768.67 79.75,766.29 83.23,765.88" fill="#e0542e"/>
<polygon points="84.70,784.75 86.17,787.93 89.65,788.34 87.08,790.72 87.76,794.16 84.70,792.45 81.64,794.16 82.32,790.72 79.75,788.34 83.23,787.93" fill="#e0542e"/>
<polygon points="141.30,608.00 142.77,611.18 146.25,611.59 143.68,613.97 144.36,617.41 141.30,615.70 138.24,617.41 138.92,613.97 136.35,611.59 139.83,611.18" fill="#e0542e"/>
<polygon points="160.20,584.60 161.67,587.78 165.15,588.19 162.58,590.57 163.26,594.01 160.20,592.30 157.14,594.01 157.82,590.57 155.25,588.19 158.73,587.78" fill="#e0542e"/>
<polygon points="204.10,584.20 205.57,587.38 209.05,587.79 206.48,590.17 207.16,593.61 204.10,591.90 201.04,593.61 201.72,590.17 199.15,587.79 202.63,587.38" fill="#e0542e"/>
<polygon points="191.20,623.85 192.67,627.03 196.15,627.44 193.58,629.82 194.26,633.26 191.20,631.55 188.14,633.26 188.82,629.82 186.25,627.44 189.73,627.03" fill="#e0542e"/>
<polygon points="189.20,633.40 190.67,636.58 194.15,636.99 191.58,639.37 192.26,642.81 189.20,641.10 186.14,642.81 186.82,639.37 184.25,636.99 187.73,636.58" fill="#e0542e"/>
<polygon points="411.20,528.85 412.67,532.03 416.15,532.44 413.58,534.82 414.26,538.26 411.20,536.55 408.14,538.26 408.82,534.82 406.25,532.44 409.73,532.03" fill="#e0542e"/>
<polygon points="384.20,566.80 385.67,569.98 389.15,570.39 386.58,572.77 387.26,576.21 384.20,574.50 381.14,576.21 381.82,572.77 379.25,570.39 382.73,569.98" fill="#e0542e"/>
<polygon points="342.90,608.00 344.37,611.18 347.85,611.59 345.28,613.97 345.96,617.41 342.90,615.70 339.84,617.41 340.52,613.97 337.95,611.59 341.43,611.18" fill="#e0542e"/>
<polygon points="314.40,630.70 315.87,633.88 319.35,634.29 316.78,636.67 317.46,640.11 314.40,638.40 311.34,640.11 312.02,636.67 309.45,634.29 312.93,633.88" fill="#e0542e"/>
<polygon points="355.80,630.70 357.27,633.88 360.75,634.29 358.18,636.67 358.86,640.11 355.80,638.40 352.74,640.11 353.42,636.67 350.85,634.29 354.33,633.88" fill="#e0542e"/>
<polygon points="381.70,642.40 383.17,645.58 386.65,645.99 384.08,648.37 384.76,651.81 381.70,650.10 378.64,651.81 379.32,648.37 376.75,645.99 380.23,645.58" fill="#e0542e"/>
<polygon points="357.70,662.10 359.17,665.28 362.65,665.69 360.08,668.07 360.76,671.51 357.70,669.80 354.64,671.51 355.32,668.07 352.75,665.69 356.23,665.28" fill="#e0542e"/>
<polygon points="205.70,670.45 207.17,673.63 210.65,674.04 208.08,676.42 208.76,679.86 205.70,678.15 202.64,679.86 203.32,676.42 200.75,674.04 204.23,673.63" fill="#e0542e"/>
<polygon points="203.80,713.40 205.27,716.58 208.75,716.99 206.18,719.37 206.86,722.81 203.80,721.10 200.74,722.81 201.42,719.37 198.85,716.99 202.33,716.58" fill="#e0542e"/>
<polygon points="170.60,822.60 172.07,825.78 175.55,826.19 172.98,828.57 173.66,832.01 170.60,830.30 167.54,832.01 168.22,828.57 165.65,826.19 169.13,825.78" fill="#e0542e"/>
<polygon points="265.90,670.00 267.37,673.18 270.85,673.59 268.28,675.97 268.96,679.41 265.90,677.70 262.84,679.41 263.52,675.97 260.95,673.59 264.43,673.18" fill="#e0542e"/>
<polygon points="266.30,680.50 267.77,683.68 271.25,684.09 268.68,686.47 269.36,689.91 266.30,688.20 263.24,689.91 263.92,686.47 261.35,684.09 264.83,683.68" fill="#e0542e"/>
<polygon points="266.30,713.40 267.77,716.58 271.25,716.99 268.68,719.37 269.36,722.81 266.30,721.10 263.24,722.81 263.92,719.37 261.35,716.99 264.83,716.58" fill="#e0542e"/>
<polygon points="264.20,738.65 265.67,741.83 269.15,742.24 266.58,744.62 267.26,748.06 264.20,746.35 261.14,748.06 261.82,744.62 259.25,742.24 262.73,741.83" fill="#e0542e"/>
<polygon points="249.50,809.80 250.97,812.98 254.45,813.39 251.88,815.77 252.56,819.21 249.50,817.50 246.44,819.21 247.12,815.77 244.55,813.39 248.03,812.98" fill="#e0542e"/>
<polygon points="289.80,741.20 291.27,744.38 294.75,744.79 292.18,747.17 292.86,750.61 289.80,748.90 286.74,750.61 287.42,747.17 284.85,744.79 288.33,744.38" fill="#e0542e"/>
<polygon points="280.70,670.00 282.17,673.18 285.65,673.59 283.08,675.97 283.76,679.41 280.70,677.70 277.64,679.41 278.32,675.97 275.75,673.59 279.23,673.18" fill="#e0542e"/>
<polygon points="342.40,692.00 343.87,695.18 347.35,695.59 344.78,697.97 345.46,701.41 342.40,699.70 339.34,701.41 340.02,697.97 337.45,695.59 340.93,695.18" fill="#e0542e"/>
<polygon points="335.50,731.10 336.97,734.28 340.45,734.69 337.88,737.07 338.56,740.51 335.50,738.80 332.44,740.51 333.12,737.07 330.55,734.69 334.03,734.28" fill="#e0542e"/>
<polygon points="316.00,741.20 317.47,744.38 320.95,744.79 318.38,747.17 319.06,750.61 316.00,748.90 312.94,750.61 313.62,747.17 311.05,744.79 314.53,744.38" fill="#e0542e"/>
<polygon points="284.40,787.05 285.87,790.23 289.35,790.64 286.78,793.02 287.46,796.46 284.40,794.75 281.34,796.46 282.02,793.02 279.45,790.64 282.93,790.23" fill="#e0542e"/>
<polygon points="412.00,722.30 413.47,725.48 416.95,725.89 414.38,728.27 415.06,731.71 412.00,730.00 408.94,731.71 409.62,728.27 407.05,725.89 410.53,725.48" fill="#e0542e"/>
<polygon points="410.70,784.65 412.17,787.83 415.65,788.24 413.08,790.62 413.76,794.06 410.70,792.35 407.64,794.06 408.32,790.62 405.75,788.24 409.23,787.83" fill="#e0542e"/>
</svg>
</body></html>
